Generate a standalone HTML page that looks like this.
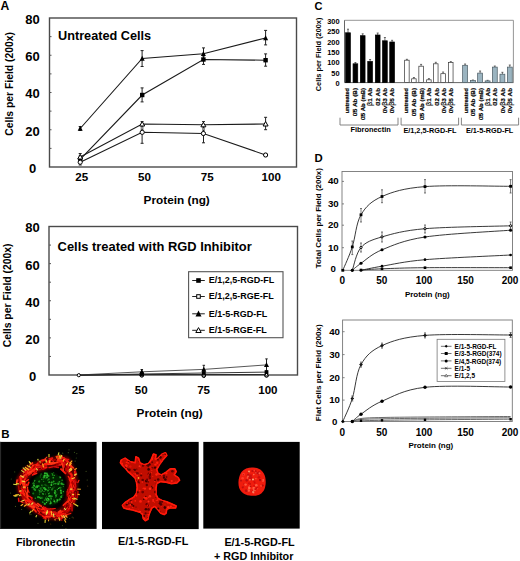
<!DOCTYPE html>
<html><head><meta charset="utf-8"><style>
html,body{margin:0;padding:0;background:#fff;overflow:hidden;}
svg{display:block;font-family:"Liberation Sans", sans-serif;}
</style></head><body>
<svg width="520" height="561" viewBox="0 0 520 561">
<rect width="520" height="561" fill="#fff"/>
<text x="0.6" y="9.8" font-size="12.2" font-weight="bold" text-anchor="start" fill="#000" >A</text>
<rect x="49.5" y="18" width="247" height="149" fill="none" stroke="#4a4a4a" stroke-width="1.4"/>
<line x1="49.5" y1="148.375" x2="51.5" y2="148.375" stroke="#555" stroke-width="1"/>
<line x1="49.5" y1="129.75" x2="51.5" y2="129.75" stroke="#555" stroke-width="1"/>
<line x1="49.5" y1="111.125" x2="51.5" y2="111.125" stroke="#555" stroke-width="1"/>
<line x1="49.5" y1="92.5" x2="51.5" y2="92.5" stroke="#555" stroke-width="1"/>
<line x1="49.5" y1="73.875" x2="51.5" y2="73.875" stroke="#555" stroke-width="1"/>
<line x1="49.5" y1="55.25" x2="51.5" y2="55.25" stroke="#555" stroke-width="1"/>
<line x1="49.5" y1="36.625" x2="51.5" y2="36.625" stroke="#555" stroke-width="1"/>
<text x="32.5" y="23.7" font-size="13" font-weight="bold" text-anchor="middle" fill="#000" >80</text>
<text x="32.5" y="61.0" font-size="13" font-weight="bold" text-anchor="middle" fill="#000" >60</text>
<text x="32.5" y="98.3" font-size="13" font-weight="bold" text-anchor="middle" fill="#000" >40</text>
<text x="32.5" y="135.6" font-size="13" font-weight="bold" text-anchor="middle" fill="#000" >20</text>
<text x="32.5" y="172.89999999999998" font-size="13" font-weight="bold" text-anchor="middle" fill="#000" >0</text>
<text x="81.7" y="181.4" font-size="11.6" font-weight="bold" text-anchor="middle" fill="#000" >25</text>
<text x="144.4" y="181.4" font-size="11.6" font-weight="bold" text-anchor="middle" fill="#000" >50</text>
<text x="207.2" y="181.4" font-size="11.6" font-weight="bold" text-anchor="middle" fill="#000" >75</text>
<text x="271.2" y="181.4" font-size="11.6" font-weight="bold" text-anchor="middle" fill="#000" >100</text>
<text x="143.6" y="204.3" font-size="11.8" font-weight="bold" text-anchor="start" fill="#000" >Protein (ng)</text>
<text x="0" y="0" font-size="10.3" font-weight="bold" text-anchor="middle" fill="#000" transform="translate(12.9,83.85) rotate(-90)" textLength="103.6" lengthAdjust="spacingAndGlyphs">Cells per Field (200x)</text>
<text x="58.0" y="39.6" font-size="12.7" font-weight="bold" text-anchor="start" fill="#000" >Untreated Cells</text>
<polyline points="80.2,128.5 142.2,58.5 203.4,53.7 265.6,38.0" fill="none" stroke="#1a1a1a" stroke-width="1.1"/>
<polyline points="80.2,159.3 142.2,95.0 203.4,59.5 265.6,60.2" fill="none" stroke="#1a1a1a" stroke-width="1.1"/>
<polyline points="80.2,157.0 142.2,124.0 203.4,124.8 265.6,124.0" fill="none" stroke="#1a1a1a" stroke-width="1.1"/>
<polyline points="80.2,162.2 142.2,132.3 203.4,133.5 265.6,155.0" fill="none" stroke="#1a1a1a" stroke-width="1.1"/>
<line x1="80.2" y1="126.5" x2="80.2" y2="130.5" stroke="#222" stroke-width="1"/>
<line x1="78.7" y1="126.5" x2="81.7" y2="126.5" stroke="#222" stroke-width="1"/>
<line x1="78.7" y1="130.5" x2="81.7" y2="130.5" stroke="#222" stroke-width="1"/>
<line x1="142.1" y1="50.6" x2="142.1" y2="66.5" stroke="#222" stroke-width="1"/>
<line x1="140.6" y1="50.6" x2="143.6" y2="50.6" stroke="#222" stroke-width="1"/>
<line x1="140.6" y1="66.5" x2="143.6" y2="66.5" stroke="#222" stroke-width="1"/>
<line x1="203.5" y1="47.9" x2="203.5" y2="58.5" stroke="#222" stroke-width="1"/>
<line x1="202.0" y1="47.9" x2="205.0" y2="47.9" stroke="#222" stroke-width="1"/>
<line x1="202.0" y1="58.5" x2="205.0" y2="58.5" stroke="#222" stroke-width="1"/>
<line x1="265.6" y1="30.4" x2="265.6" y2="44.9" stroke="#222" stroke-width="1"/>
<line x1="264.1" y1="30.4" x2="267.1" y2="30.4" stroke="#222" stroke-width="1"/>
<line x1="264.1" y1="44.9" x2="267.1" y2="44.9" stroke="#222" stroke-width="1"/>
<line x1="80.2" y1="156" x2="80.2" y2="162" stroke="#222" stroke-width="1"/>
<line x1="78.7" y1="156" x2="81.7" y2="156" stroke="#222" stroke-width="1"/>
<line x1="78.7" y1="162" x2="81.7" y2="162" stroke="#222" stroke-width="1"/>
<line x1="142.1" y1="87.9" x2="142.1" y2="101.9" stroke="#222" stroke-width="1"/>
<line x1="140.6" y1="87.9" x2="143.6" y2="87.9" stroke="#222" stroke-width="1"/>
<line x1="140.6" y1="101.9" x2="143.6" y2="101.9" stroke="#222" stroke-width="1"/>
<line x1="203.5" y1="56" x2="203.5" y2="64.4" stroke="#222" stroke-width="1"/>
<line x1="202.0" y1="56" x2="205.0" y2="56" stroke="#222" stroke-width="1"/>
<line x1="202.0" y1="64.4" x2="205.0" y2="64.4" stroke="#222" stroke-width="1"/>
<line x1="265.6" y1="53.9" x2="265.6" y2="66.2" stroke="#222" stroke-width="1"/>
<line x1="264.1" y1="53.9" x2="267.1" y2="53.9" stroke="#222" stroke-width="1"/>
<line x1="264.1" y1="66.2" x2="267.1" y2="66.2" stroke="#222" stroke-width="1"/>
<line x1="80.2" y1="153.5" x2="80.2" y2="160" stroke="#222" stroke-width="1"/>
<line x1="78.7" y1="153.5" x2="81.7" y2="153.5" stroke="#222" stroke-width="1"/>
<line x1="78.7" y1="160" x2="81.7" y2="160" stroke="#222" stroke-width="1"/>
<line x1="142.1" y1="121.6" x2="142.1" y2="127" stroke="#222" stroke-width="1"/>
<line x1="140.6" y1="121.6" x2="143.6" y2="121.6" stroke="#222" stroke-width="1"/>
<line x1="140.6" y1="127" x2="143.6" y2="127" stroke="#222" stroke-width="1"/>
<line x1="203.5" y1="121.6" x2="203.5" y2="128" stroke="#222" stroke-width="1"/>
<line x1="202.0" y1="121.6" x2="205.0" y2="121.6" stroke="#222" stroke-width="1"/>
<line x1="202.0" y1="128" x2="205.0" y2="128" stroke="#222" stroke-width="1"/>
<line x1="265.6" y1="117.3" x2="265.6" y2="129.7" stroke="#222" stroke-width="1"/>
<line x1="264.1" y1="117.3" x2="267.1" y2="117.3" stroke="#222" stroke-width="1"/>
<line x1="264.1" y1="129.7" x2="267.1" y2="129.7" stroke="#222" stroke-width="1"/>
<line x1="80.2" y1="160" x2="80.2" y2="165" stroke="#222" stroke-width="1"/>
<line x1="78.7" y1="160" x2="81.7" y2="160" stroke="#222" stroke-width="1"/>
<line x1="78.7" y1="165" x2="81.7" y2="165" stroke="#222" stroke-width="1"/>
<line x1="142.1" y1="129" x2="142.1" y2="143.3" stroke="#222" stroke-width="1"/>
<line x1="140.6" y1="129" x2="143.6" y2="129" stroke="#222" stroke-width="1"/>
<line x1="140.6" y1="143.3" x2="143.6" y2="143.3" stroke="#222" stroke-width="1"/>
<line x1="203.5" y1="130" x2="203.5" y2="142.8" stroke="#222" stroke-width="1"/>
<line x1="202.0" y1="130" x2="205.0" y2="130" stroke="#222" stroke-width="1"/>
<line x1="202.0" y1="142.8" x2="205.0" y2="142.8" stroke="#222" stroke-width="1"/>
<line x1="265.6" y1="153.5" x2="265.6" y2="156.5" stroke="#222" stroke-width="1"/>
<line x1="264.1" y1="153.5" x2="267.1" y2="153.5" stroke="#222" stroke-width="1"/>
<line x1="264.1" y1="156.5" x2="267.1" y2="156.5" stroke="#222" stroke-width="1"/>
<polygon points="80.2,125.8 82.7,130.7 77.7,130.7" fill="#000"/>
<rect x="78.0" y="157.10000000000002" width="4.4" height="4.4" fill="#000"/>
<polygon points="80.2,154.5 82.7,159.0 77.7,159.0" fill="#fff" stroke="#000" stroke-width="1"/>
<circle cx="80.2" cy="162.2" r="2.1" fill="#fff" stroke="#000" stroke-width="1"/>
<polygon points="142.2,55.8 144.7,60.7 139.7,60.7" fill="#000"/>
<rect x="140.0" y="92.8" width="4.4" height="4.4" fill="#000"/>
<polygon points="142.2,121.5 144.7,126.0 139.7,126.0" fill="#fff" stroke="#000" stroke-width="1"/>
<circle cx="142.2" cy="132.3" r="2.1" fill="#fff" stroke="#000" stroke-width="1"/>
<polygon points="203.4,51.0 205.9,55.900000000000006 200.9,55.900000000000006" fill="#000"/>
<rect x="201.20000000000002" y="57.3" width="4.4" height="4.4" fill="#000"/>
<polygon points="203.4,122.3 205.9,126.8 200.9,126.8" fill="#fff" stroke="#000" stroke-width="1"/>
<circle cx="203.4" cy="133.5" r="2.1" fill="#fff" stroke="#000" stroke-width="1"/>
<polygon points="265.6,35.3 268.1,40.2 263.1,40.2" fill="#000"/>
<rect x="263.40000000000003" y="58.0" width="4.4" height="4.4" fill="#000"/>
<polygon points="265.6,121.5 268.1,126.0 263.1,126.0" fill="#fff" stroke="#000" stroke-width="1"/>
<circle cx="265.6" cy="155.0" r="2.1" fill="#fff" stroke="#000" stroke-width="1"/>
<rect x="49" y="226.5" width="248.5" height="148.5" fill="none" stroke="#4a4a4a" stroke-width="1.4"/>
<line x1="49" y1="356.44" x2="51" y2="356.44" stroke="#555" stroke-width="1"/>
<line x1="49" y1="337.88" x2="51" y2="337.88" stroke="#555" stroke-width="1"/>
<line x1="49" y1="319.32" x2="51" y2="319.32" stroke="#555" stroke-width="1"/>
<line x1="49" y1="300.76" x2="51" y2="300.76" stroke="#555" stroke-width="1"/>
<line x1="49" y1="282.2" x2="51" y2="282.2" stroke="#555" stroke-width="1"/>
<line x1="49" y1="263.64" x2="51" y2="263.64" stroke="#555" stroke-width="1"/>
<line x1="49" y1="245.07999999999998" x2="51" y2="245.07999999999998" stroke="#555" stroke-width="1"/>
<text x="32.5" y="232.2" font-size="13" font-weight="bold" text-anchor="middle" fill="#000" >80</text>
<text x="32.5" y="269.5" font-size="13" font-weight="bold" text-anchor="middle" fill="#000" >60</text>
<text x="32.5" y="306.8" font-size="13" font-weight="bold" text-anchor="middle" fill="#000" >40</text>
<text x="32.5" y="344.3" font-size="13" font-weight="bold" text-anchor="middle" fill="#000" >20</text>
<text x="32.5" y="381.3" font-size="13" font-weight="bold" text-anchor="middle" fill="#000" >0</text>
<text x="78.2" y="394.4" font-size="11.6" font-weight="bold" text-anchor="middle" fill="#000" >25</text>
<text x="141.3" y="394.4" font-size="11.6" font-weight="bold" text-anchor="middle" fill="#000" >50</text>
<text x="203.6" y="394.4" font-size="11.6" font-weight="bold" text-anchor="middle" fill="#000" >75</text>
<text x="267.9" y="394.4" font-size="11.6" font-weight="bold" text-anchor="middle" fill="#000" >100</text>
<text x="136.6" y="417.2" font-size="11.8" font-weight="bold" text-anchor="start" fill="#000" >Protein (ng)</text>
<text x="0" y="0" font-size="10.3" font-weight="bold" text-anchor="middle" fill="#000" transform="translate(10.6,295.4) rotate(-90)" textLength="103.9" lengthAdjust="spacingAndGlyphs">Cells per Field (200x)</text>
<text x="57.6" y="250.6" font-size="12.9" font-weight="bold" text-anchor="start" fill="#000" >Cells treated with RGD Inhibitor</text>
<polyline points="78.8,375.0 141.8,371.8 203.8,369.4 266.5,364.9" fill="none" stroke="#444" stroke-width="0.9"/>
<polyline points="78.8,375.2 141.8,374.0 203.8,373.0 266.5,372.1" fill="none" stroke="#222" stroke-width="0.9"/>
<polyline points="78.8,375.3 141.8,374.5 203.8,374.5 266.5,374.5" fill="none" stroke="#222" stroke-width="0.9"/>
<line x1="141.8" y1="369.5" x2="141.8" y2="374.5" stroke="#222" stroke-width="1"/>
<line x1="140.55" y1="369.5" x2="143.05" y2="369.5" stroke="#222" stroke-width="1"/>
<line x1="140.55" y1="374.5" x2="143.05" y2="374.5" stroke="#222" stroke-width="1"/>
<line x1="203.8" y1="365.3" x2="203.8" y2="374" stroke="#222" stroke-width="1"/>
<line x1="202.55" y1="365.3" x2="205.05" y2="365.3" stroke="#222" stroke-width="1"/>
<line x1="202.55" y1="374" x2="205.05" y2="374" stroke="#222" stroke-width="1"/>
<line x1="266.5" y1="358.9" x2="266.5" y2="371" stroke="#222" stroke-width="1"/>
<line x1="265.25" y1="358.9" x2="267.75" y2="358.9" stroke="#222" stroke-width="1"/>
<line x1="265.25" y1="371" x2="267.75" y2="371" stroke="#222" stroke-width="1"/>
<circle cx="141.8" cy="375.6" r="1.6" fill="#fff" stroke="#000" stroke-width="1"/>
<polygon points="141.8,372.5 143.8,376.0 139.8,376.0" fill="#fff" stroke="#000" stroke-width="1"/>
<rect x="139.9" y="372.1" width="3.8" height="3.8" fill="#000"/>
<polygon points="141.8,369.1 144.3,374.0 139.3,374.0" fill="#000"/>
<circle cx="203.8" cy="376.0" r="1.6" fill="#fff" stroke="#000" stroke-width="1"/>
<polygon points="203.8,372.5 205.8,376.0 201.8,376.0" fill="#fff" stroke="#000" stroke-width="1"/>
<rect x="201.9" y="371.1" width="3.8" height="3.8" fill="#000"/>
<polygon points="203.8,366.7 206.3,371.59999999999997 201.3,371.59999999999997" fill="#000"/>
<circle cx="266.5" cy="375.8" r="1.6" fill="#fff" stroke="#000" stroke-width="1"/>
<polygon points="266.5,372.5 268.5,376.0 264.5,376.0" fill="#fff" stroke="#000" stroke-width="1"/>
<rect x="264.6" y="370.20000000000005" width="3.8" height="3.8" fill="#000"/>
<polygon points="266.5,362.2 269.0,367.09999999999997 264.0,367.09999999999997" fill="#000"/>
<circle cx="78.8" cy="375.2" r="1.6" fill="#fff" stroke="#000" stroke-width="1"/>
<rect x="188.6" y="271.7" width="94.4" height="66" fill="#fff" stroke="#555" stroke-width="1.1"/>
<line x1="192.2" y1="280.5" x2="204.8" y2="280.5" stroke="#222" stroke-width="1"/>
<rect x="196.2" y="278.2" width="4.6" height="4.6" fill="#000"/>
<text x="208.8" y="283.4" font-size="9" font-weight="bold" text-anchor="start" fill="#000" >E/1,2,5-RGD-FL</text>
<line x1="192.2" y1="296.5" x2="204.8" y2="296.5" stroke="#222" stroke-width="1"/>
<rect x="196.7" y="294.7" width="3.5999999999999996" height="3.5999999999999996" fill="#fff" stroke="#000" stroke-width="1"/>
<text x="208.8" y="299.4" font-size="9" font-weight="bold" text-anchor="start" fill="#000" >E/1,2,5-RGE-FL</text>
<line x1="192.2" y1="313.8" x2="204.8" y2="313.8" stroke="#222" stroke-width="1"/>
<polygon points="198.5,310.6 201.5,316.5 195.5,316.5" fill="#000"/>
<text x="208.8" y="316.7" font-size="9" font-weight="bold" text-anchor="start" fill="#000" >E/1-5-RGD-FL</text>
<line x1="192.2" y1="330.3" x2="204.8" y2="330.3" stroke="#222" stroke-width="1"/>
<polygon points="198.5,327.6 201.2,332.5 195.8,332.5" fill="#fff" stroke="#000" stroke-width="1"/>
<text x="208.8" y="333.2" font-size="9" font-weight="bold" text-anchor="start" fill="#000" >E/1-5-RGE-FL</text>
<text x="1.2" y="438.4" font-size="11.5" font-weight="bold" text-anchor="start" fill="#000" >B</text>
<rect x="0" y="441.9" width="96.6" height="87" fill="#000"/>
<rect x="0" y="441.9" width="1.1" height="87" fill="#2a2a2a"/>
<rect x="102" y="441.9" width="96.7" height="87.2" fill="#000"/>
<rect x="203.3" y="441.9" width="96.4" height="86.7" fill="#000"/>
<defs><filter id="bl" x="-20%" y="-20%" width="140%" height="140%"><feGaussianBlur stdDeviation="0.6"/></filter><filter id="bl2" x="-20%" y="-20%" width="140%" height="140%"><feGaussianBlur stdDeviation="1.2"/></filter><clipPath id="c1"><rect x="0" y="442" width="96.8" height="87"/></clipPath><clipPath id="c2"><rect x="102" y="442" width="96.5" height="87"/></clipPath><clipPath id="c3"><rect x="203.2" y="442" width="96.6" height="86.3"/></clipPath></defs>
<g clip-path="url(#c1)">
<ellipse cx="48.0" cy="489" rx="16.8" ry="16.8" fill="#062206" filter="url(#bl2)"/>
<g filter="url(#bl)"><circle cx="45.4" cy="494.0" r="0.5" fill="#1c9a1c"/><circle cx="38.6" cy="486.1" r="1.0" fill="#1c9a1c"/><circle cx="49.4" cy="493.0" r="0.5" fill="#30c030"/><circle cx="57.4" cy="494.1" r="0.6" fill="#0e500e"/><circle cx="50.5" cy="501.2" r="0.8" fill="#1c9a1c"/><circle cx="35.3" cy="498.2" r="0.8" fill="#1c9a1c"/><circle cx="55.5" cy="496.2" r="0.6" fill="#0e500e"/><circle cx="42.9" cy="502.2" r="0.6" fill="#28b028"/><circle cx="41.9" cy="485.2" r="0.8" fill="#1c9a1c"/><circle cx="52.0" cy="489.8" r="0.8" fill="#28b028"/><circle cx="34.0" cy="485.4" r="0.9" fill="#30c030"/><circle cx="39.7" cy="490.9" r="0.9" fill="#28b028"/><circle cx="48.8" cy="500.8" r="0.8" fill="#0e500e"/><circle cx="42.2" cy="497.5" r="1.1" fill="#0e500e"/><circle cx="56.2" cy="495.5" r="0.6" fill="#137013"/><circle cx="45.0" cy="488.5" r="1.0" fill="#1c9a1c"/><circle cx="34.5" cy="481.5" r="0.7" fill="#137013"/><circle cx="41.5" cy="497.7" r="0.5" fill="#30c030"/><circle cx="55.4" cy="493.1" r="0.5" fill="#1c9a1c"/><circle cx="44.3" cy="475.6" r="0.7" fill="#30c030"/><circle cx="38.1" cy="497.2" r="1.1" fill="#1c9a1c"/><circle cx="40.4" cy="498.5" r="0.5" fill="#30c030"/><circle cx="49.0" cy="482.4" r="0.7" fill="#28b028"/><circle cx="58.4" cy="482.5" r="0.8" fill="#28b028"/><circle cx="33.5" cy="483.6" r="1.0" fill="#30c030"/><circle cx="46.4" cy="498.8" r="0.9" fill="#137013"/><circle cx="42.5" cy="493.7" r="0.6" fill="#1c9a1c"/><circle cx="49.2" cy="496.2" r="1.0" fill="#30c030"/><circle cx="51.9" cy="496.3" r="0.8" fill="#28b028"/><circle cx="39.8" cy="497.4" r="0.9" fill="#28b028"/><circle cx="35.4" cy="487.0" r="0.8" fill="#1c9a1c"/><circle cx="59.4" cy="476.6" r="0.7" fill="#0e500e"/><circle cx="44.0" cy="491.4" r="0.5" fill="#30c030"/><circle cx="55.2" cy="491.4" r="0.6" fill="#28b028"/><circle cx="44.0" cy="485.2" r="0.6" fill="#0e500e"/><circle cx="56.3" cy="494.2" r="0.5" fill="#1c9a1c"/><circle cx="50.9" cy="498.1" r="1.1" fill="#137013"/><circle cx="39.2" cy="481.5" r="1.0" fill="#1c9a1c"/><circle cx="59.6" cy="487.8" r="0.7" fill="#30c030"/><circle cx="57.1" cy="499.5" r="0.8" fill="#137013"/><circle cx="44.1" cy="477.2" r="1.1" fill="#28b028"/><circle cx="42.1" cy="487.2" r="1.0" fill="#0e500e"/><circle cx="48.8" cy="479.3" r="0.9" fill="#1c9a1c"/><circle cx="47.6" cy="498.3" r="0.7" fill="#28b028"/><circle cx="50.4" cy="500.3" r="0.7" fill="#0e500e"/><circle cx="50.8" cy="503.0" r="1.0" fill="#28b028"/><circle cx="54.2" cy="475.4" r="0.6" fill="#28b028"/><circle cx="34.2" cy="488.9" r="1.0" fill="#1c9a1c"/><circle cx="41.1" cy="489.6" r="1.1" fill="#0e500e"/><circle cx="33.2" cy="493.5" r="1.1" fill="#137013"/><circle cx="43.2" cy="494.1" r="0.8" fill="#28b028"/><circle cx="42.3" cy="498.1" r="1.0" fill="#0e500e"/><circle cx="35.1" cy="490.0" r="1.0" fill="#1c9a1c"/><circle cx="55.8" cy="495.3" r="0.8" fill="#28b028"/><circle cx="54.7" cy="501.5" r="0.6" fill="#137013"/><circle cx="61.5" cy="483.6" r="0.7" fill="#30c030"/><circle cx="61.6" cy="483.7" r="1.1" fill="#28b028"/><circle cx="60.8" cy="490.5" r="1.0" fill="#30c030"/><circle cx="57.4" cy="500.2" r="0.9" fill="#30c030"/><circle cx="41.1" cy="498.2" r="0.5" fill="#28b028"/><circle cx="52.6" cy="474.9" r="0.8" fill="#1c9a1c"/><circle cx="58.2" cy="483.9" r="1.0" fill="#28b028"/><circle cx="50.3" cy="496.3" r="0.8" fill="#137013"/><circle cx="49.1" cy="478.9" r="0.8" fill="#0e500e"/><circle cx="59.0" cy="499.8" r="1.0" fill="#137013"/><circle cx="40.5" cy="475.6" r="0.8" fill="#0e500e"/><circle cx="58.5" cy="482.5" r="0.6" fill="#0e500e"/><circle cx="32.9" cy="487.3" r="0.9" fill="#28b028"/><circle cx="49.3" cy="482.0" r="0.8" fill="#28b028"/><circle cx="46.4" cy="476.1" r="0.9" fill="#137013"/><circle cx="37.1" cy="486.1" r="1.0" fill="#1c9a1c"/><circle cx="55.1" cy="490.8" r="1.0" fill="#1c9a1c"/><circle cx="35.9" cy="487.7" r="0.8" fill="#1c9a1c"/><circle cx="39.4" cy="480.7" r="0.6" fill="#0e500e"/><circle cx="46.3" cy="499.9" r="0.8" fill="#30c030"/><circle cx="48.5" cy="500.2" r="1.1" fill="#137013"/><circle cx="54.1" cy="483.7" r="0.6" fill="#30c030"/><circle cx="56.2" cy="495.9" r="0.9" fill="#1c9a1c"/><circle cx="41.4" cy="491.6" r="1.0" fill="#137013"/><circle cx="53.5" cy="484.4" r="0.6" fill="#137013"/><circle cx="60.3" cy="477.4" r="0.9" fill="#28b028"/><circle cx="61.2" cy="497.0" r="1.1" fill="#28b028"/><circle cx="51.6" cy="482.5" r="1.1" fill="#30c030"/><circle cx="39.5" cy="494.4" r="0.7" fill="#137013"/><circle cx="47.9" cy="486.0" r="0.8" fill="#0e500e"/><circle cx="45.3" cy="478.5" r="0.9" fill="#0e500e"/><circle cx="44.1" cy="488.0" r="1.1" fill="#28b028"/><circle cx="55.0" cy="493.5" r="1.0" fill="#1c9a1c"/><circle cx="54.3" cy="501.3" r="1.0" fill="#30c030"/><circle cx="41.1" cy="474.0" r="0.6" fill="#30c030"/><circle cx="59.2" cy="482.2" r="0.6" fill="#137013"/><circle cx="61.1" cy="493.1" r="1.0" fill="#30c030"/><circle cx="48.0" cy="490.4" r="1.0" fill="#1c9a1c"/><circle cx="61.5" cy="496.0" r="0.7" fill="#1c9a1c"/><circle cx="49.6" cy="489.5" r="0.8" fill="#0e500e"/><circle cx="59.5" cy="481.7" r="0.8" fill="#1c9a1c"/><circle cx="48.7" cy="493.7" r="0.7" fill="#28b028"/><circle cx="55.0" cy="502.8" r="0.8" fill="#137013"/><circle cx="51.3" cy="498.9" r="0.7" fill="#28b028"/><circle cx="53.7" cy="472.8" r="0.5" fill="#1c9a1c"/><circle cx="47.0" cy="476.1" r="0.8" fill="#28b028"/><circle cx="48.6" cy="499.3" r="0.9" fill="#30c030"/><circle cx="33.4" cy="483.9" r="0.7" fill="#0e500e"/><circle cx="50.0" cy="496.0" r="1.0" fill="#28b028"/><circle cx="44.8" cy="475.6" r="1.1" fill="#30c030"/><circle cx="63.3" cy="486.6" r="0.5" fill="#1c9a1c"/><circle cx="47.8" cy="480.0" r="0.5" fill="#28b028"/><circle cx="43.1" cy="479.5" r="0.9" fill="#0e500e"/><circle cx="46.7" cy="496.3" r="0.5" fill="#137013"/><circle cx="51.7" cy="496.2" r="0.7" fill="#1c9a1c"/><circle cx="64.1" cy="484.4" r="0.7" fill="#0e500e"/><circle cx="63.4" cy="491.6" r="0.7" fill="#28b028"/><circle cx="58.5" cy="488.4" r="0.7" fill="#30c030"/><circle cx="43.7" cy="481.5" r="0.6" fill="#1c9a1c"/><circle cx="50.9" cy="482.6" r="0.5" fill="#0e500e"/><circle cx="57.3" cy="489.6" r="0.6" fill="#28b028"/><circle cx="63.0" cy="484.3" r="0.9" fill="#28b028"/><circle cx="45.0" cy="473.2" r="1.0" fill="#30c030"/><circle cx="46.2" cy="476.9" r="0.9" fill="#137013"/><circle cx="46.2" cy="485.6" r="0.9" fill="#0e500e"/><circle cx="46.8" cy="473.5" r="1.0" fill="#28b028"/><circle cx="48.5" cy="475.9" r="1.0" fill="#1c9a1c"/><circle cx="34.8" cy="480.4" r="0.6" fill="#28b028"/><circle cx="61.0" cy="491.7" r="0.7" fill="#1c9a1c"/><circle cx="44.8" cy="489.4" r="0.9" fill="#1c9a1c"/><circle cx="43.4" cy="477.8" r="0.8" fill="#1c9a1c"/><circle cx="62.7" cy="495.1" r="0.6" fill="#0e500e"/><circle cx="34.2" cy="486.0" r="0.7" fill="#30c030"/><circle cx="55.9" cy="492.1" r="0.6" fill="#28b028"/><circle cx="41.7" cy="479.2" r="0.5" fill="#30c030"/><circle cx="55.8" cy="483.6" r="0.9" fill="#1c9a1c"/><circle cx="45.4" cy="484.7" r="0.7" fill="#28b028"/><circle cx="40.3" cy="477.1" r="0.8" fill="#0e500e"/><circle cx="52.4" cy="488.6" r="1.1" fill="#137013"/><circle cx="54.5" cy="492.8" r="0.7" fill="#30c030"/><circle cx="37.1" cy="487.1" r="1.0" fill="#30c030"/><circle cx="60.5" cy="487.8" r="1.1" fill="#137013"/><circle cx="50.3" cy="487.4" r="0.5" fill="#30c030"/><circle cx="31.9" cy="487.6" r="0.7" fill="#137013"/><circle cx="62.1" cy="480.3" r="0.8" fill="#1c9a1c"/><circle cx="55.8" cy="497.6" r="0.6" fill="#137013"/><circle cx="53.3" cy="477.7" r="0.9" fill="#1c9a1c"/><circle cx="50.1" cy="503.8" r="0.7" fill="#30c030"/><circle cx="57.0" cy="501.8" r="0.7" fill="#30c030"/><circle cx="46.8" cy="477.8" r="0.7" fill="#30c030"/><circle cx="48.7" cy="487.7" r="1.0" fill="#137013"/><circle cx="59.9" cy="499.2" r="1.0" fill="#1c9a1c"/><circle cx="45.8" cy="498.1" r="0.7" fill="#30c030"/><circle cx="51.4" cy="485.0" r="1.0" fill="#30c030"/><circle cx="53.6" cy="481.4" r="1.0" fill="#1c9a1c"/><circle cx="44.8" cy="503.9" r="1.1" fill="#28b028"/><circle cx="39.8" cy="491.9" r="1.0" fill="#137013"/><circle cx="45.8" cy="489.5" r="1.0" fill="#30c030"/><circle cx="59.7" cy="483.8" r="0.5" fill="#1c9a1c"/><circle cx="47.1" cy="477.3" r="0.9" fill="#28b028"/><circle cx="47.5" cy="491.9" r="0.6" fill="#0e500e"/><circle cx="38.8" cy="490.0" r="0.7" fill="#137013"/><circle cx="47.4" cy="475.0" r="0.9" fill="#30c030"/><circle cx="44.4" cy="500.0" r="0.6" fill="#30c030"/><circle cx="45.5" cy="484.8" r="1.0" fill="#0e500e"/><circle cx="40.6" cy="488.4" r="1.1" fill="#137013"/><circle cx="42.4" cy="490.2" r="0.6" fill="#28b028"/><circle cx="53.9" cy="499.3" r="0.6" fill="#137013"/><circle cx="47.6" cy="500.7" r="0.9" fill="#1c9a1c"/><circle cx="39.2" cy="493.8" r="0.6" fill="#0e500e"/><circle cx="46.5" cy="502.5" r="0.7" fill="#30c030"/><circle cx="54.0" cy="487.1" r="0.8" fill="#0e500e"/><circle cx="52.1" cy="473.6" r="0.7" fill="#1c9a1c"/><circle cx="48.4" cy="498.7" r="0.8" fill="#30c030"/><circle cx="42.6" cy="502.1" r="0.6" fill="#1c9a1c"/></g>
<path d="M21.8,479.9 L27.2,472.1 L36.5,467.1 L48.1,463.8 L58.8,460.9 L65.4,461.7 L69.5,469.1 L72.6,479.9 L72.6,491.4 L70.4,501.4 L66.3,510.4 L58.8,515.1 L49.8,514.3 L40.7,510.4 L31.6,504.6 L25.0,498.0 L22.1,488.1 Z" fill="none" stroke="#5a0000" stroke-width="11" stroke-linejoin="round" filter="url(#bl2)"/>
<g filter="url(#bl)"><line x1="74.0" y1="480.4" x2="72.0" y2="484.4" stroke="#ff2010" stroke-width="1.3" stroke-linecap="round"/><line x1="27.3" y1="493.1" x2="27.6" y2="487.2" stroke="#ff3818" stroke-width="1.2" stroke-linecap="round"/><line x1="31.2" y1="467.3" x2="37.2" y2="465.4" stroke="#ff1a0a" stroke-width="1.6" stroke-linecap="round"/><line x1="27.4" y1="504.8" x2="26.4" y2="502.2" stroke="#ff2010" stroke-width="1.0" stroke-linecap="round"/><line x1="35.2" y1="467.4" x2="41.5" y2="467.0" stroke="#ff1a0a" stroke-width="1.2" stroke-linecap="round"/><line x1="61.4" y1="513.4" x2="58.7" y2="514.5" stroke="#ff2010" stroke-width="1.2" stroke-linecap="round"/><line x1="21.0" y1="489.0" x2="21.7" y2="486.5" stroke="#b00000" stroke-width="1.2" stroke-linecap="round"/><line x1="75.6" y1="487.3" x2="73.4" y2="491.8" stroke="#e81010" stroke-width="1.4" stroke-linecap="round"/><line x1="56.9" y1="460.9" x2="60.6" y2="460.7" stroke="#ff2010" stroke-width="1.2" stroke-linecap="round"/><line x1="18.9" y1="501.4" x2="18.5" y2="498.6" stroke="#e81010" stroke-width="1.5" stroke-linecap="round"/><line x1="23.7" y1="492.7" x2="21.9" y2="488.9" stroke="#ff1a0a" stroke-width="1.3" stroke-linecap="round"/><line x1="20.6" y1="481.5" x2="22.9" y2="476.1" stroke="#ff2010" stroke-width="1.2" stroke-linecap="round"/><line x1="24.3" y1="486.0" x2="23.2" y2="482.8" stroke="#c80808" stroke-width="1.1" stroke-linecap="round"/><line x1="66.7" y1="515.8" x2="61.2" y2="518.5" stroke="#ff3818" stroke-width="1.3" stroke-linecap="round"/><line x1="58.1" y1="516.2" x2="54.7" y2="516.2" stroke="#b00000" stroke-width="1.1" stroke-linecap="round"/><line x1="26.6" y1="475.3" x2="27.3" y2="471.3" stroke="#ff1a0a" stroke-width="1.7" stroke-linecap="round"/><line x1="46.6" y1="518.9" x2="43.4" y2="518.1" stroke="#b00000" stroke-width="1.6" stroke-linecap="round"/><line x1="23.4" y1="477.2" x2="26.2" y2="474.3" stroke="#c80808" stroke-width="1.8" stroke-linecap="round"/><line x1="72.6" y1="483.9" x2="74.3" y2="487.7" stroke="#ff2010" stroke-width="1.4" stroke-linecap="round"/><line x1="44.1" y1="512.2" x2="38.7" y2="510.6" stroke="#c80808" stroke-width="1.7" stroke-linecap="round"/><line x1="75.0" y1="480.4" x2="75.8" y2="486.5" stroke="#e81010" stroke-width="1.3" stroke-linecap="round"/><line x1="47.1" y1="514.0" x2="42.5" y2="512.2" stroke="#e81010" stroke-width="1.6" stroke-linecap="round"/><line x1="43.2" y1="511.2" x2="37.1" y2="510.4" stroke="#c80808" stroke-width="1.2" stroke-linecap="round"/><line x1="25.9" y1="472.4" x2="29.5" y2="470.9" stroke="#c80808" stroke-width="1.8" stroke-linecap="round"/><line x1="63.8" y1="511.2" x2="61.1" y2="513.6" stroke="#ff2010" stroke-width="1.6" stroke-linecap="round"/><line x1="70.9" y1="513.5" x2="64.8" y2="515.1" stroke="#ff2010" stroke-width="1.0" stroke-linecap="round"/><line x1="54.3" y1="466.6" x2="58.3" y2="467.4" stroke="#c80808" stroke-width="1.7" stroke-linecap="round"/><line x1="34.5" y1="506.7" x2="30.1" y2="505.8" stroke="#ff2010" stroke-width="1.6" stroke-linecap="round"/><line x1="46.1" y1="515.0" x2="42.8" y2="513.2" stroke="#c80808" stroke-width="1.4" stroke-linecap="round"/><line x1="41.4" y1="506.4" x2="37.8" y2="503.6" stroke="#ff3818" stroke-width="1.6" stroke-linecap="round"/><line x1="58.5" y1="460.2" x2="62.3" y2="460.8" stroke="#ff3818" stroke-width="1.7" stroke-linecap="round"/><line x1="22.0" y1="482.9" x2="21.2" y2="480.2" stroke="#ff2010" stroke-width="1.3" stroke-linecap="round"/><line x1="21.2" y1="483.1" x2="19.5" y2="479.1" stroke="#ff1a0a" stroke-width="1.2" stroke-linecap="round"/><line x1="71.3" y1="500.5" x2="67.7" y2="504.8" stroke="#c80808" stroke-width="1.2" stroke-linecap="round"/><line x1="65.9" y1="503.3" x2="65.4" y2="506.8" stroke="#e81010" stroke-width="1.2" stroke-linecap="round"/><line x1="64.1" y1="458.1" x2="66.9" y2="459.7" stroke="#ff2010" stroke-width="1.3" stroke-linecap="round"/><line x1="23.0" y1="483.9" x2="24.3" y2="479.0" stroke="#ff2010" stroke-width="1.1" stroke-linecap="round"/><line x1="73.9" y1="489.6" x2="70.9" y2="494.6" stroke="#c80808" stroke-width="1.0" stroke-linecap="round"/><line x1="64.0" y1="459.3" x2="68.0" y2="462.0" stroke="#ff2010" stroke-width="1.3" stroke-linecap="round"/><line x1="27.1" y1="501.5" x2="24.5" y2="499.2" stroke="#ff1a0a" stroke-width="1.8" stroke-linecap="round"/><line x1="34.9" y1="472.0" x2="37.7" y2="469.2" stroke="#e81010" stroke-width="1.0" stroke-linecap="round"/><line x1="25.1" y1="482.9" x2="22.5" y2="478.2" stroke="#e81010" stroke-width="1.7" stroke-linecap="round"/><line x1="34.9" y1="504.4" x2="32.7" y2="502.6" stroke="#ff2010" stroke-width="1.6" stroke-linecap="round"/><line x1="70.2" y1="503.6" x2="70.2" y2="506.5" stroke="#ff3818" stroke-width="1.5" stroke-linecap="round"/><line x1="42.8" y1="469.3" x2="46.1" y2="468.0" stroke="#c80808" stroke-width="1.5" stroke-linecap="round"/><line x1="70.6" y1="478.8" x2="73.0" y2="483.8" stroke="#c80808" stroke-width="1.3" stroke-linecap="round"/><line x1="21.6" y1="478.8" x2="24.4" y2="475.8" stroke="#ff3818" stroke-width="1.2" stroke-linecap="round"/><line x1="25.0" y1="481.8" x2="28.5" y2="479.6" stroke="#ff2010" stroke-width="1.3" stroke-linecap="round"/><line x1="28.0" y1="499.0" x2="24.7" y2="495.7" stroke="#ff1a0a" stroke-width="1.6" stroke-linecap="round"/><line x1="71.5" y1="473.9" x2="72.8" y2="480.0" stroke="#ff1a0a" stroke-width="1.4" stroke-linecap="round"/><line x1="40.8" y1="465.9" x2="43.7" y2="466.4" stroke="#ff3818" stroke-width="1.6" stroke-linecap="round"/><line x1="36.0" y1="511.7" x2="33.7" y2="508.9" stroke="#ff2010" stroke-width="1.8" stroke-linecap="round"/><line x1="77.9" y1="491.6" x2="77.3" y2="497.7" stroke="#b00000" stroke-width="1.6" stroke-linecap="round"/><line x1="23.1" y1="500.1" x2="22.3" y2="494.2" stroke="#b00000" stroke-width="1.3" stroke-linecap="round"/><line x1="30.2" y1="503.5" x2="26.6" y2="501.5" stroke="#b00000" stroke-width="1.1" stroke-linecap="round"/><line x1="66.8" y1="468.6" x2="70.6" y2="473.8" stroke="#e81010" stroke-width="1.0" stroke-linecap="round"/><line x1="69.2" y1="505.4" x2="67.1" y2="507.5" stroke="#b00000" stroke-width="1.4" stroke-linecap="round"/><line x1="30.6" y1="503.6" x2="28.1" y2="499.1" stroke="#c80808" stroke-width="1.5" stroke-linecap="round"/><line x1="71.0" y1="481.7" x2="71.2" y2="484.3" stroke="#b00000" stroke-width="1.8" stroke-linecap="round"/><line x1="70.1" y1="487.7" x2="70.4" y2="492.6" stroke="#ff3818" stroke-width="1.7" stroke-linecap="round"/><line x1="35.9" y1="506.1" x2="32.3" y2="504.5" stroke="#ff3818" stroke-width="1.4" stroke-linecap="round"/><line x1="58.9" y1="515.0" x2="56.0" y2="516.0" stroke="#ff1a0a" stroke-width="1.3" stroke-linecap="round"/><line x1="49.2" y1="519.0" x2="45.7" y2="515.3" stroke="#e81010" stroke-width="1.0" stroke-linecap="round"/><line x1="24.4" y1="471.1" x2="29.2" y2="469.1" stroke="#ff2010" stroke-width="1.2" stroke-linecap="round"/><line x1="27.7" y1="485.3" x2="28.8" y2="482.4" stroke="#ff1a0a" stroke-width="1.7" stroke-linecap="round"/><line x1="25.8" y1="473.0" x2="30.2" y2="469.7" stroke="#e81010" stroke-width="1.3" stroke-linecap="round"/><line x1="66.5" y1="512.2" x2="62.1" y2="516.7" stroke="#ff3818" stroke-width="1.2" stroke-linecap="round"/><line x1="59.3" y1="462.5" x2="63.0" y2="463.0" stroke="#ff2010" stroke-width="1.2" stroke-linecap="round"/><line x1="70.0" y1="477.1" x2="71.8" y2="480.7" stroke="#c80808" stroke-width="1.1" stroke-linecap="round"/><line x1="70.0" y1="499.1" x2="67.9" y2="502.4" stroke="#ff3818" stroke-width="1.4" stroke-linecap="round"/><line x1="69.5" y1="508.3" x2="65.5" y2="511.3" stroke="#ff3818" stroke-width="1.6" stroke-linecap="round"/><line x1="69.0" y1="471.2" x2="70.6" y2="474.8" stroke="#e81010" stroke-width="1.3" stroke-linecap="round"/><line x1="42.3" y1="509.8" x2="40.1" y2="508.2" stroke="#b00000" stroke-width="1.2" stroke-linecap="round"/><line x1="62.4" y1="514.8" x2="57.6" y2="515.2" stroke="#ff1a0a" stroke-width="1.7" stroke-linecap="round"/><line x1="48.1" y1="513.0" x2="43.1" y2="512.0" stroke="#ff3818" stroke-width="1.4" stroke-linecap="round"/><line x1="27.1" y1="496.6" x2="25.1" y2="493.9" stroke="#ff1a0a" stroke-width="1.0" stroke-linecap="round"/><line x1="27.1" y1="475.7" x2="29.8" y2="472.0" stroke="#ff3818" stroke-width="1.5" stroke-linecap="round"/><line x1="67.3" y1="507.9" x2="64.0" y2="511.6" stroke="#ff3818" stroke-width="1.1" stroke-linecap="round"/><line x1="21.2" y1="478.7" x2="22.6" y2="476.4" stroke="#e81010" stroke-width="1.7" stroke-linecap="round"/><line x1="41.3" y1="506.0" x2="38.2" y2="504.4" stroke="#ff2010" stroke-width="1.0" stroke-linecap="round"/><line x1="32.1" y1="508.3" x2="28.1" y2="505.3" stroke="#b00000" stroke-width="1.6" stroke-linecap="round"/><line x1="58.2" y1="462.4" x2="60.6" y2="463.7" stroke="#b00000" stroke-width="1.0" stroke-linecap="round"/><line x1="48.0" y1="461.8" x2="51.9" y2="458.7" stroke="#ff1a0a" stroke-width="1.8" stroke-linecap="round"/><line x1="37.9" y1="462.5" x2="42.0" y2="459.8" stroke="#b00000" stroke-width="1.5" stroke-linecap="round"/><line x1="69.3" y1="479.0" x2="71.4" y2="483.6" stroke="#ff1a0a" stroke-width="1.6" stroke-linecap="round"/><line x1="51.3" y1="511.4" x2="45.4" y2="511.9" stroke="#ff1a0a" stroke-width="1.7" stroke-linecap="round"/><line x1="29.5" y1="470.9" x2="33.0" y2="470.9" stroke="#ff1a0a" stroke-width="1.0" stroke-linecap="round"/><line x1="66.7" y1="465.3" x2="68.0" y2="470.4" stroke="#c80808" stroke-width="1.6" stroke-linecap="round"/><line x1="58.9" y1="462.7" x2="63.1" y2="464.6" stroke="#c80808" stroke-width="1.2" stroke-linecap="round"/><line x1="23.5" y1="491.6" x2="23.8" y2="488.7" stroke="#b00000" stroke-width="1.0" stroke-linecap="round"/><line x1="59.5" y1="459.4" x2="64.1" y2="462.4" stroke="#c80808" stroke-width="1.2" stroke-linecap="round"/><line x1="74.8" y1="471.6" x2="75.5" y2="475.6" stroke="#ff1a0a" stroke-width="1.7" stroke-linecap="round"/><line x1="20.3" y1="484.4" x2="20.0" y2="479.8" stroke="#ff2010" stroke-width="1.7" stroke-linecap="round"/><line x1="70.5" y1="482.9" x2="69.4" y2="487.6" stroke="#c80808" stroke-width="1.6" stroke-linecap="round"/><line x1="68.2" y1="476.4" x2="69.7" y2="478.6" stroke="#ff2010" stroke-width="1.1" stroke-linecap="round"/><line x1="25.1" y1="491.4" x2="23.8" y2="488.6" stroke="#ff2010" stroke-width="1.0" stroke-linecap="round"/><line x1="39.7" y1="467.3" x2="41.8" y2="465.5" stroke="#b00000" stroke-width="1.6" stroke-linecap="round"/><line x1="49.9" y1="462.8" x2="54.4" y2="463.7" stroke="#ff1a0a" stroke-width="1.1" stroke-linecap="round"/><line x1="23.4" y1="502.8" x2="20.3" y2="501.5" stroke="#ff2010" stroke-width="1.0" stroke-linecap="round"/><line x1="24.2" y1="489.7" x2="26.3" y2="484.6" stroke="#ff2010" stroke-width="1.7" stroke-linecap="round"/><line x1="62.2" y1="511.3" x2="59.1" y2="515.9" stroke="#e81010" stroke-width="1.2" stroke-linecap="round"/><line x1="67.8" y1="464.8" x2="70.5" y2="467.6" stroke="#c80808" stroke-width="1.0" stroke-linecap="round"/><line x1="42.3" y1="515.4" x2="38.4" y2="513.3" stroke="#c80808" stroke-width="1.5" stroke-linecap="round"/><line x1="25.7" y1="478.7" x2="27.8" y2="475.1" stroke="#ff2010" stroke-width="1.3" stroke-linecap="round"/><line x1="51.2" y1="513.2" x2="48.6" y2="511.9" stroke="#c80808" stroke-width="1.1" stroke-linecap="round"/><line x1="21.5" y1="482.5" x2="23.2" y2="477.2" stroke="#ff2010" stroke-width="1.0" stroke-linecap="round"/><line x1="67.2" y1="491.4" x2="67.6" y2="495.8" stroke="#c80808" stroke-width="1.8" stroke-linecap="round"/><line x1="71.6" y1="497.6" x2="70.7" y2="500.6" stroke="#e81010" stroke-width="1.8" stroke-linecap="round"/><line x1="56.9" y1="458.2" x2="61.4" y2="458.2" stroke="#ff1a0a" stroke-width="1.4" stroke-linecap="round"/><line x1="30.3" y1="464.7" x2="32.5" y2="463.0" stroke="#ff3818" stroke-width="1.7" stroke-linecap="round"/><line x1="46.1" y1="509.0" x2="42.6" y2="507.9" stroke="#ff3818" stroke-width="1.7" stroke-linecap="round"/><line x1="73.4" y1="494.2" x2="72.8" y2="500.2" stroke="#e81010" stroke-width="1.8" stroke-linecap="round"/><line x1="38.4" y1="469.8" x2="41.0" y2="469.4" stroke="#b00000" stroke-width="1.3" stroke-linecap="round"/><line x1="41.8" y1="467.0" x2="46.9" y2="467.3" stroke="#ff1a0a" stroke-width="1.3" stroke-linecap="round"/><line x1="71.3" y1="488.0" x2="72.4" y2="491.7" stroke="#ff1a0a" stroke-width="1.7" stroke-linecap="round"/><line x1="56.6" y1="463.0" x2="60.2" y2="462.3" stroke="#ff1a0a" stroke-width="1.7" stroke-linecap="round"/><line x1="64.3" y1="510.9" x2="59.7" y2="512.5" stroke="#c80808" stroke-width="1.1" stroke-linecap="round"/><line x1="60.9" y1="469.0" x2="65.5" y2="473.4" stroke="#ff1a0a" stroke-width="1.8" stroke-linecap="round"/><line x1="44.6" y1="466.3" x2="47.1" y2="464.5" stroke="#c80808" stroke-width="1.6" stroke-linecap="round"/><line x1="70.4" y1="482.2" x2="71.9" y2="487.1" stroke="#ff2010" stroke-width="1.2" stroke-linecap="round"/><line x1="25.1" y1="499.5" x2="25.4" y2="495.2" stroke="#e81010" stroke-width="1.4" stroke-linecap="round"/><line x1="62.0" y1="513.1" x2="59.4" y2="514.9" stroke="#b00000" stroke-width="1.6" stroke-linecap="round"/><line x1="20.3" y1="480.8" x2="23.8" y2="477.4" stroke="#ff1a0a" stroke-width="1.3" stroke-linecap="round"/><line x1="56.2" y1="456.5" x2="62.2" y2="456.3" stroke="#ff1a0a" stroke-width="1.6" stroke-linecap="round"/><line x1="31.1" y1="501.7" x2="28.3" y2="499.2" stroke="#ff1a0a" stroke-width="1.6" stroke-linecap="round"/><line x1="28.7" y1="496.6" x2="26.5" y2="493.1" stroke="#ff1a0a" stroke-width="1.5" stroke-linecap="round"/><line x1="57.4" y1="462.9" x2="61.4" y2="463.9" stroke="#ff1a0a" stroke-width="1.5" stroke-linecap="round"/><line x1="25.6" y1="501.4" x2="24.1" y2="497.9" stroke="#ff2010" stroke-width="1.3" stroke-linecap="round"/><line x1="73.0" y1="493.3" x2="72.2" y2="496.4" stroke="#e81010" stroke-width="1.4" stroke-linecap="round"/><line x1="31.8" y1="469.5" x2="36.1" y2="467.7" stroke="#ff1a0a" stroke-width="1.4" stroke-linecap="round"/><line x1="21.5" y1="480.0" x2="23.9" y2="475.0" stroke="#ff3818" stroke-width="1.2" stroke-linecap="round"/><line x1="55.4" y1="512.2" x2="49.9" y2="512.3" stroke="#ff2010" stroke-width="1.6" stroke-linecap="round"/><line x1="63.4" y1="510.5" x2="61.3" y2="512.2" stroke="#ff2010" stroke-width="1.3" stroke-linecap="round"/><line x1="71.5" y1="480.1" x2="70.8" y2="483.9" stroke="#c80808" stroke-width="1.1" stroke-linecap="round"/><line x1="63.0" y1="463.9" x2="63.2" y2="470.4" stroke="#ff3818" stroke-width="1.4" stroke-linecap="round"/><line x1="44.0" y1="460.5" x2="46.7" y2="460.9" stroke="#ff1a0a" stroke-width="1.2" stroke-linecap="round"/><line x1="60.7" y1="511.9" x2="57.5" y2="516.0" stroke="#ff3818" stroke-width="1.4" stroke-linecap="round"/><line x1="62.2" y1="464.3" x2="63.5" y2="467.0" stroke="#ff3818" stroke-width="1.3" stroke-linecap="round"/><line x1="30.6" y1="502.5" x2="27.0" y2="500.3" stroke="#e81010" stroke-width="1.4" stroke-linecap="round"/><line x1="34.1" y1="509.9" x2="31.6" y2="506.9" stroke="#ff1a0a" stroke-width="1.2" stroke-linecap="round"/><line x1="69.7" y1="490.5" x2="68.3" y2="494.1" stroke="#c80808" stroke-width="1.7" stroke-linecap="round"/><line x1="23.3" y1="473.2" x2="28.2" y2="469.5" stroke="#e81010" stroke-width="1.4" stroke-linecap="round"/><line x1="65.6" y1="469.5" x2="67.6" y2="471.4" stroke="#c80808" stroke-width="1.2" stroke-linecap="round"/><line x1="33.9" y1="471.3" x2="36.2" y2="468.7" stroke="#ff3818" stroke-width="1.3" stroke-linecap="round"/><line x1="40.1" y1="463.2" x2="45.1" y2="459.7" stroke="#b00000" stroke-width="1.8" stroke-linecap="round"/><line x1="31.5" y1="471.6" x2="36.2" y2="471.2" stroke="#ff1a0a" stroke-width="1.7" stroke-linecap="round"/><line x1="49.6" y1="463.9" x2="53.9" y2="463.8" stroke="#ff2010" stroke-width="1.4" stroke-linecap="round"/><line x1="59.2" y1="464.2" x2="62.2" y2="463.7" stroke="#ff3818" stroke-width="1.4" stroke-linecap="round"/><line x1="75.3" y1="492.9" x2="75.4" y2="496.1" stroke="#b00000" stroke-width="1.7" stroke-linecap="round"/><line x1="22.8" y1="481.1" x2="26.3" y2="478.5" stroke="#b00000" stroke-width="1.4" stroke-linecap="round"/><line x1="64.1" y1="461.7" x2="64.1" y2="466.9" stroke="#e81010" stroke-width="1.5" stroke-linecap="round"/><line x1="61.7" y1="512.6" x2="59.2" y2="516.9" stroke="#ff1a0a" stroke-width="1.6" stroke-linecap="round"/><line x1="21.6" y1="482.7" x2="21.3" y2="477.2" stroke="#e81010" stroke-width="1.0" stroke-linecap="round"/><line x1="49.6" y1="513.4" x2="46.3" y2="511.4" stroke="#ff1a0a" stroke-width="1.3" stroke-linecap="round"/><line x1="67.9" y1="489.3" x2="68.3" y2="493.5" stroke="#ff3818" stroke-width="1.2" stroke-linecap="round"/><line x1="26.5" y1="475.1" x2="28.0" y2="471.5" stroke="#ff3818" stroke-width="1.3" stroke-linecap="round"/><line x1="72.6" y1="494.9" x2="69.3" y2="498.9" stroke="#ff2010" stroke-width="1.3" stroke-linecap="round"/><line x1="67.3" y1="460.3" x2="70.5" y2="464.0" stroke="#ff1a0a" stroke-width="1.1" stroke-linecap="round"/><line x1="24.7" y1="483.5" x2="24.1" y2="478.8" stroke="#ff3818" stroke-width="1.2" stroke-linecap="round"/><line x1="19.6" y1="481.4" x2="21.4" y2="475.5" stroke="#b00000" stroke-width="1.6" stroke-linecap="round"/><line x1="28.7" y1="474.9" x2="31.2" y2="473.1" stroke="#ff1a0a" stroke-width="1.6" stroke-linecap="round"/><line x1="66.8" y1="510.4" x2="63.7" y2="511.7" stroke="#ff1a0a" stroke-width="1.5" stroke-linecap="round"/><line x1="64.5" y1="514.5" x2="60.3" y2="515.3" stroke="#ff2010" stroke-width="1.7" stroke-linecap="round"/><line x1="61.5" y1="518.1" x2="55.7" y2="518.3" stroke="#c80808" stroke-width="1.4" stroke-linecap="round"/><line x1="58.9" y1="462.1" x2="63.1" y2="461.9" stroke="#ff1a0a" stroke-width="1.5" stroke-linecap="round"/><line x1="21.6" y1="495.4" x2="20.3" y2="491.0" stroke="#ff2010" stroke-width="1.6" stroke-linecap="round"/><line x1="70.7" y1="479.6" x2="72.8" y2="484.3" stroke="#b00000" stroke-width="1.5" stroke-linecap="round"/><line x1="24.3" y1="490.8" x2="25.2" y2="486.5" stroke="#ff3818" stroke-width="1.4" stroke-linecap="round"/><line x1="32.8" y1="474.8" x2="36.7" y2="473.3" stroke="#ff2010" stroke-width="1.5" stroke-linecap="round"/><line x1="35.5" y1="465.8" x2="38.3" y2="466.3" stroke="#ff2010" stroke-width="1.1" stroke-linecap="round"/><line x1="22.6" y1="478.8" x2="25.0" y2="476.6" stroke="#ff2010" stroke-width="1.3" stroke-linecap="round"/><line x1="45.1" y1="510.6" x2="42.5" y2="508.8" stroke="#ff2010" stroke-width="1.2" stroke-linecap="round"/><line x1="67.8" y1="501.1" x2="63.3" y2="505.3" stroke="#ff2010" stroke-width="1.6" stroke-linecap="round"/><line x1="22.5" y1="480.9" x2="23.1" y2="475.8" stroke="#b00000" stroke-width="1.1" stroke-linecap="round"/><line x1="66.1" y1="461.8" x2="66.8" y2="466.2" stroke="#ff2010" stroke-width="1.3" stroke-linecap="round"/><line x1="23.2" y1="489.3" x2="24.0" y2="485.0" stroke="#e81010" stroke-width="1.1" stroke-linecap="round"/><line x1="38.6" y1="506.5" x2="35.4" y2="503.8" stroke="#ff3818" stroke-width="1.6" stroke-linecap="round"/><line x1="74.8" y1="485.2" x2="76.1" y2="490.6" stroke="#c80808" stroke-width="1.2" stroke-linecap="round"/><line x1="22.5" y1="469.8" x2="26.2" y2="469.2" stroke="#b00000" stroke-width="1.6" stroke-linecap="round"/><line x1="23.1" y1="480.9" x2="24.6" y2="475.3" stroke="#b00000" stroke-width="1.3" stroke-linecap="round"/><line x1="27.9" y1="499.0" x2="26.8" y2="493.1" stroke="#ff3818" stroke-width="1.2" stroke-linecap="round"/><line x1="18.6" y1="480.8" x2="20.1" y2="476.9" stroke="#b00000" stroke-width="1.7" stroke-linecap="round"/><line x1="43.8" y1="511.0" x2="37.7" y2="510.8" stroke="#b00000" stroke-width="1.1" stroke-linecap="round"/><line x1="23.4" y1="486.0" x2="24.6" y2="481.5" stroke="#ff3818" stroke-width="1.3" stroke-linecap="round"/><line x1="32.4" y1="475.1" x2="36.2" y2="471.1" stroke="#e81010" stroke-width="1.2" stroke-linecap="round"/><line x1="27.0" y1="475.5" x2="29.6" y2="470.9" stroke="#c80808" stroke-width="1.5" stroke-linecap="round"/><line x1="23.8" y1="481.1" x2="26.1" y2="477.9" stroke="#ff2010" stroke-width="1.2" stroke-linecap="round"/><line x1="70.6" y1="508.6" x2="66.1" y2="512.7" stroke="#b00000" stroke-width="1.3" stroke-linecap="round"/><line x1="71.2" y1="494.8" x2="72.3" y2="500.5" stroke="#c80808" stroke-width="1.3" stroke-linecap="round"/><line x1="70.0" y1="505.8" x2="68.5" y2="510.1" stroke="#e81010" stroke-width="1.2" stroke-linecap="round"/><line x1="29.1" y1="492.6" x2="27.3" y2="488.6" stroke="#ff2010" stroke-width="1.1" stroke-linecap="round"/><line x1="67.0" y1="509.8" x2="63.6" y2="512.8" stroke="#ff2010" stroke-width="1.1" stroke-linecap="round"/><line x1="52.0" y1="460.4" x2="55.3" y2="459.8" stroke="#c80808" stroke-width="1.3" stroke-linecap="round"/><line x1="23.8" y1="490.3" x2="25.2" y2="484.6" stroke="#e81010" stroke-width="1.2" stroke-linecap="round"/><line x1="24.6" y1="476.0" x2="25.1" y2="473.3" stroke="#b00000" stroke-width="1.3" stroke-linecap="round"/><line x1="52.9" y1="516.1" x2="47.0" y2="515.6" stroke="#ff2010" stroke-width="1.7" stroke-linecap="round"/><line x1="62.2" y1="516.3" x2="60.1" y2="519.4" stroke="#e81010" stroke-width="1.5" stroke-linecap="round"/><line x1="23.7" y1="488.2" x2="24.2" y2="484.1" stroke="#ff3818" stroke-width="1.7" stroke-linecap="round"/><line x1="69.0" y1="469.6" x2="72.6" y2="474.7" stroke="#c80808" stroke-width="1.0" stroke-linecap="round"/><line x1="71.8" y1="504.5" x2="72.1" y2="510.7" stroke="#c80808" stroke-width="1.6" stroke-linecap="round"/><line x1="50.6" y1="509.4" x2="47.5" y2="509.5" stroke="#ff2010" stroke-width="1.8" stroke-linecap="round"/><line x1="55.3" y1="508.5" x2="50.5" y2="509.1" stroke="#ff1a0a" stroke-width="1.1" stroke-linecap="round"/><line x1="66.6" y1="464.1" x2="68.2" y2="466.9" stroke="#e81010" stroke-width="1.6" stroke-linecap="round"/><line x1="21.9" y1="495.0" x2="22.3" y2="490.7" stroke="#e81010" stroke-width="1.6" stroke-linecap="round"/><line x1="42.2" y1="464.7" x2="46.1" y2="464.1" stroke="#ff1a0a" stroke-width="1.1" stroke-linecap="round"/><line x1="70.5" y1="484.0" x2="72.9" y2="489.7" stroke="#ff2010" stroke-width="1.5" stroke-linecap="round"/><line x1="70.0" y1="485.4" x2="70.1" y2="490.4" stroke="#e81010" stroke-width="1.3" stroke-linecap="round"/><line x1="46.7" y1="516.5" x2="42.5" y2="516.2" stroke="#e81010" stroke-width="1.4" stroke-linecap="round"/><line x1="41.4" y1="468.6" x2="44.9" y2="465.3" stroke="#c80808" stroke-width="1.3" stroke-linecap="round"/><line x1="44.5" y1="463.9" x2="48.1" y2="462.8" stroke="#ff3818" stroke-width="1.1" stroke-linecap="round"/><line x1="16.6" y1="483.5" x2="17.1" y2="480.2" stroke="#ff3818" stroke-width="1.7" stroke-linecap="round"/><line x1="32.7" y1="465.4" x2="39.1" y2="465.2" stroke="#ff3818" stroke-width="1.8" stroke-linecap="round"/><line x1="21.6" y1="482.8" x2="20.1" y2="476.9" stroke="#ff2010" stroke-width="1.7" stroke-linecap="round"/><line x1="23.4" y1="485.3" x2="21.5" y2="480.7" stroke="#ff3818" stroke-width="1.6" stroke-linecap="round"/><line x1="68.3" y1="465.2" x2="69.1" y2="469.8" stroke="#e81010" stroke-width="1.3" stroke-linecap="round"/><line x1="24.5" y1="476.0" x2="26.3" y2="472.9" stroke="#e81010" stroke-width="1.1" stroke-linecap="round"/><line x1="47.6" y1="463.9" x2="50.0" y2="462.3" stroke="#ff2010" stroke-width="1.7" stroke-linecap="round"/><line x1="47.6" y1="509.6" x2="45.1" y2="507.6" stroke="#e81010" stroke-width="1.5" stroke-linecap="round"/><line x1="50.9" y1="515.6" x2="48.2" y2="515.3" stroke="#ff1a0a" stroke-width="1.4" stroke-linecap="round"/><line x1="33.0" y1="502.8" x2="31.3" y2="498.6" stroke="#c80808" stroke-width="1.3" stroke-linecap="round"/><line x1="30.9" y1="504.7" x2="25.0" y2="502.8" stroke="#ff3818" stroke-width="1.1" stroke-linecap="round"/><line x1="57.7" y1="512.3" x2="53.0" y2="513.0" stroke="#c80808" stroke-width="1.0" stroke-linecap="round"/><line x1="53.1" y1="509.6" x2="46.9" y2="510.0" stroke="#b00000" stroke-width="1.1" stroke-linecap="round"/><line x1="66.5" y1="468.8" x2="69.4" y2="473.8" stroke="#c80808" stroke-width="1.6" stroke-linecap="round"/><line x1="32.2" y1="498.1" x2="29.7" y2="496.5" stroke="#ff1a0a" stroke-width="1.4" stroke-linecap="round"/><line x1="69.2" y1="495.3" x2="68.1" y2="499.9" stroke="#ff2010" stroke-width="1.2" stroke-linecap="round"/><line x1="30.8" y1="471.9" x2="34.5" y2="469.0" stroke="#ff2010" stroke-width="1.0" stroke-linecap="round"/><line x1="24.0" y1="492.3" x2="23.8" y2="488.7" stroke="#b00000" stroke-width="1.5" stroke-linecap="round"/><line x1="72.6" y1="488.7" x2="73.0" y2="491.5" stroke="#e81010" stroke-width="1.0" stroke-linecap="round"/><line x1="34.1" y1="464.9" x2="38.5" y2="463.7" stroke="#c80808" stroke-width="1.1" stroke-linecap="round"/><line x1="34.7" y1="465.6" x2="37.6" y2="463.8" stroke="#ff1a0a" stroke-width="1.5" stroke-linecap="round"/><line x1="46.8" y1="509.7" x2="41.0" y2="509.3" stroke="#ff1a0a" stroke-width="1.3" stroke-linecap="round"/><line x1="73.9" y1="478.0" x2="74.6" y2="484.3" stroke="#c80808" stroke-width="1.3" stroke-linecap="round"/><line x1="56.2" y1="463.6" x2="60.5" y2="463.4" stroke="#b00000" stroke-width="1.6" stroke-linecap="round"/><line x1="23.1" y1="494.9" x2="20.0" y2="491.5" stroke="#ff1a0a" stroke-width="1.7" stroke-linecap="round"/><line x1="56.0" y1="465.2" x2="61.0" y2="465.4" stroke="#c80808" stroke-width="1.1" stroke-linecap="round"/><line x1="48.4" y1="464.2" x2="51.7" y2="463.9" stroke="#ff3818" stroke-width="1.8" stroke-linecap="round"/><line x1="39.6" y1="512.8" x2="36.9" y2="508.5" stroke="#ff2010" stroke-width="1.0" stroke-linecap="round"/><line x1="61.0" y1="512.7" x2="57.7" y2="516.0" stroke="#ff2010" stroke-width="1.5" stroke-linecap="round"/><line x1="60.0" y1="457.3" x2="64.2" y2="457.9" stroke="#ff2010" stroke-width="1.2" stroke-linecap="round"/><line x1="64.5" y1="460.9" x2="67.0" y2="466.7" stroke="#b00000" stroke-width="1.7" stroke-linecap="round"/><line x1="29.1" y1="471.9" x2="34.8" y2="469.5" stroke="#ff3818" stroke-width="1.1" stroke-linecap="round"/><line x1="37.9" y1="467.8" x2="41.0" y2="466.2" stroke="#ff2010" stroke-width="1.6" stroke-linecap="round"/><line x1="63.3" y1="459.2" x2="68.6" y2="459.6" stroke="#e81010" stroke-width="1.5" stroke-linecap="round"/><line x1="50.1" y1="463.8" x2="54.9" y2="462.8" stroke="#ff3818" stroke-width="1.7" stroke-linecap="round"/><line x1="26.4" y1="478.6" x2="27.8" y2="475.6" stroke="#b00000" stroke-width="1.3" stroke-linecap="round"/><line x1="69.3" y1="510.6" x2="66.8" y2="513.1" stroke="#b00000" stroke-width="1.3" stroke-linecap="round"/><line x1="61.3" y1="460.4" x2="64.2" y2="462.0" stroke="#ff2010" stroke-width="1.6" stroke-linecap="round"/><line x1="42.5" y1="460.5" x2="45.1" y2="459.6" stroke="#ff3818" stroke-width="1.7" stroke-linecap="round"/><line x1="71.1" y1="465.6" x2="71.2" y2="470.2" stroke="#ff1a0a" stroke-width="1.6" stroke-linecap="round"/><line x1="41.5" y1="466.5" x2="46.5" y2="466.0" stroke="#c80808" stroke-width="1.7" stroke-linecap="round"/><line x1="73.9" y1="497.9" x2="71.5" y2="502.8" stroke="#ff3818" stroke-width="1.2" stroke-linecap="round"/><line x1="60.8" y1="510.5" x2="58.5" y2="512.2" stroke="#ff3818" stroke-width="1.6" stroke-linecap="round"/><line x1="65.9" y1="504.8" x2="63.2" y2="510.6" stroke="#b00000" stroke-width="1.1" stroke-linecap="round"/><line x1="31.9" y1="502.4" x2="26.5" y2="500.1" stroke="#ff1a0a" stroke-width="1.4" stroke-linecap="round"/><line x1="49.0" y1="517.1" x2="45.0" y2="516.3" stroke="#b00000" stroke-width="1.5" stroke-linecap="round"/><line x1="61.9" y1="520.2" x2="58.5" y2="518.0" stroke="#c80808" stroke-width="1.1" stroke-linecap="round"/><line x1="64.4" y1="461.2" x2="68.0" y2="464.4" stroke="#b00000" stroke-width="1.2" stroke-linecap="round"/><line x1="35.6" y1="503.5" x2="32.9" y2="501.4" stroke="#c80808" stroke-width="1.2" stroke-linecap="round"/><line x1="79.0" y1="480.3" x2="77.9" y2="482.6" stroke="#ff2010" stroke-width="1.2" stroke-linecap="round"/><line x1="26.4" y1="497.6" x2="24.1" y2="493.2" stroke="#ff3818" stroke-width="1.4" stroke-linecap="round"/><line x1="74.4" y1="498.8" x2="72.8" y2="502.6" stroke="#c80808" stroke-width="1.0" stroke-linecap="round"/><line x1="55.9" y1="513.8" x2="52.6" y2="514.9" stroke="#ff3818" stroke-width="1.3" stroke-linecap="round"/><line x1="71.6" y1="475.5" x2="72.6" y2="480.2" stroke="#e81010" stroke-width="1.8" stroke-linecap="round"/><line x1="70.0" y1="491.9" x2="67.4" y2="494.8" stroke="#b00000" stroke-width="1.6" stroke-linecap="round"/><line x1="30.0" y1="469.4" x2="33.2" y2="467.1" stroke="#ff2010" stroke-width="1.7" stroke-linecap="round"/><line x1="76.0" y1="497.6" x2="73.7" y2="502.9" stroke="#b00000" stroke-width="1.7" stroke-linecap="round"/><line x1="75.4" y1="479.0" x2="76.6" y2="482.5" stroke="#b00000" stroke-width="1.2" stroke-linecap="round"/><line x1="25.5" y1="497.4" x2="24.9" y2="494.5" stroke="#b00000" stroke-width="1.8" stroke-linecap="round"/><line x1="61.4" y1="512.9" x2="59.3" y2="516.5" stroke="#ff2010" stroke-width="1.2" stroke-linecap="round"/><line x1="54.6" y1="517.7" x2="50.2" y2="515.7" stroke="#ff1a0a" stroke-width="1.0" stroke-linecap="round"/><line x1="45.5" y1="463.8" x2="50.2" y2="463.8" stroke="#ff1a0a" stroke-width="1.7" stroke-linecap="round"/><line x1="72.4" y1="497.8" x2="71.5" y2="500.8" stroke="#b00000" stroke-width="1.6" stroke-linecap="round"/><line x1="33.0" y1="468.1" x2="35.0" y2="465.7" stroke="#b00000" stroke-width="1.4" stroke-linecap="round"/><line x1="68.8" y1="487.8" x2="68.0" y2="493.0" stroke="#b00000" stroke-width="1.3" stroke-linecap="round"/><line x1="49.9" y1="516.0" x2="46.8" y2="515.2" stroke="#c80808" stroke-width="1.5" stroke-linecap="round"/><line x1="29.0" y1="502.2" x2="24.6" y2="499.9" stroke="#ff2010" stroke-width="1.0" stroke-linecap="round"/><line x1="25.5" y1="499.6" x2="24.2" y2="493.4" stroke="#ff3818" stroke-width="1.0" stroke-linecap="round"/><line x1="57.7" y1="460.4" x2="60.8" y2="461.0" stroke="#ff2010" stroke-width="1.7" stroke-linecap="round"/><line x1="34.1" y1="507.4" x2="29.5" y2="505.6" stroke="#ff3818" stroke-width="1.8" stroke-linecap="round"/><line x1="28.0" y1="473.3" x2="31.8" y2="471.7" stroke="#ff3818" stroke-width="1.7" stroke-linecap="round"/><line x1="69.5" y1="491.4" x2="67.8" y2="494.5" stroke="#e81010" stroke-width="1.1" stroke-linecap="round"/><line x1="74.7" y1="469.2" x2="76.1" y2="472.8" stroke="#c80808" stroke-width="1.4" stroke-linecap="round"/><line x1="70.9" y1="473.7" x2="72.0" y2="476.3" stroke="#ff2010" stroke-width="1.3" stroke-linecap="round"/><line x1="26.5" y1="494.2" x2="25.3" y2="490.6" stroke="#ff3818" stroke-width="1.0" stroke-linecap="round"/><line x1="57.5" y1="513.9" x2="54.4" y2="514.2" stroke="#ff1a0a" stroke-width="1.1" stroke-linecap="round"/><line x1="49.0" y1="467.6" x2="53.3" y2="466.7" stroke="#e81010" stroke-width="1.1" stroke-linecap="round"/><line x1="68.0" y1="468.0" x2="69.1" y2="471.9" stroke="#b00000" stroke-width="1.2" stroke-linecap="round"/><line x1="24.0" y1="488.4" x2="23.8" y2="485.3" stroke="#ff1a0a" stroke-width="1.8" stroke-linecap="round"/><line x1="67.9" y1="509.1" x2="62.7" y2="512.8" stroke="#b00000" stroke-width="1.2" stroke-linecap="round"/><line x1="65.8" y1="511.2" x2="63.1" y2="514.9" stroke="#b00000" stroke-width="1.7" stroke-linecap="round"/><line x1="45.5" y1="518.2" x2="43.5" y2="516.6" stroke="#ff1a0a" stroke-width="1.5" stroke-linecap="round"/><line x1="63.9" y1="462.5" x2="68.2" y2="466.5" stroke="#c80808" stroke-width="1.2" stroke-linecap="round"/><line x1="25.9" y1="499.0" x2="21.9" y2="494.4" stroke="#b00000" stroke-width="1.6" stroke-linecap="round"/><line x1="48.5" y1="464.5" x2="53.6" y2="461.9" stroke="#ff3818" stroke-width="1.2" stroke-linecap="round"/><line x1="71.5" y1="476.0" x2="70.8" y2="481.6" stroke="#ff1a0a" stroke-width="1.7" stroke-linecap="round"/><line x1="36.8" y1="466.6" x2="42.0" y2="466.1" stroke="#c80808" stroke-width="1.7" stroke-linecap="round"/><line x1="22.0" y1="477.8" x2="25.1" y2="474.8" stroke="#ff3818" stroke-width="1.3" stroke-linecap="round"/><line x1="64.1" y1="513.7" x2="58.7" y2="514.5" stroke="#ff1a0a" stroke-width="1.5" stroke-linecap="round"/><line x1="73.0" y1="476.1" x2="73.7" y2="480.2" stroke="#c80808" stroke-width="1.1" stroke-linecap="round"/><line x1="46.9" y1="510.5" x2="43.7" y2="506.9" stroke="#e81010" stroke-width="1.5" stroke-linecap="round"/><line x1="50.2" y1="512.7" x2="46.1" y2="512.1" stroke="#ff1a0a" stroke-width="1.5" stroke-linecap="round"/><line x1="19.4" y1="492.1" x2="18.6" y2="486.1" stroke="#b00000" stroke-width="1.5" stroke-linecap="round"/><line x1="23.3" y1="473.4" x2="24.3" y2="470.7" stroke="#c80808" stroke-width="1.2" stroke-linecap="round"/><line x1="23.6" y1="494.6" x2="23.2" y2="490.6" stroke="#ff1a0a" stroke-width="1.5" stroke-linecap="round"/><line x1="54.0" y1="463.1" x2="57.7" y2="462.2" stroke="#ff3818" stroke-width="1.4" stroke-linecap="round"/><line x1="65.4" y1="467.9" x2="66.3" y2="472.8" stroke="#b00000" stroke-width="1.0" stroke-linecap="round"/><line x1="53.2" y1="514.4" x2="48.7" y2="514.3" stroke="#e81010" stroke-width="1.4" stroke-linecap="round"/><line x1="49.3" y1="458.9" x2="52.4" y2="458.2" stroke="#e81010" stroke-width="1.8" stroke-linecap="round"/><line x1="61.0" y1="512.2" x2="57.9" y2="513.9" stroke="#ff2010" stroke-width="1.1" stroke-linecap="round"/><line x1="69.3" y1="464.6" x2="73.3" y2="467.9" stroke="#ff3818" stroke-width="1.5" stroke-linecap="round"/><line x1="57.6" y1="459.4" x2="62.1" y2="458.7" stroke="#ff3818" stroke-width="1.1" stroke-linecap="round"/><line x1="61.7" y1="513.4" x2="57.1" y2="515.0" stroke="#e81010" stroke-width="1.3" stroke-linecap="round"/><line x1="36.0" y1="506.0" x2="31.5" y2="502.8" stroke="#e81010" stroke-width="1.5" stroke-linecap="round"/><line x1="41.3" y1="460.8" x2="44.4" y2="459.6" stroke="#ff1a0a" stroke-width="1.2" stroke-linecap="round"/><line x1="68.7" y1="469.7" x2="70.1" y2="472.0" stroke="#c80808" stroke-width="1.2" stroke-linecap="round"/><line x1="35.2" y1="471.3" x2="38.1" y2="468.2" stroke="#b00000" stroke-width="1.3" stroke-linecap="round"/><line x1="45.0" y1="458.9" x2="46.9" y2="457.2" stroke="#ff3818" stroke-width="1.1" stroke-linecap="round"/><line x1="50.3" y1="516.9" x2="45.8" y2="516.8" stroke="#ff3818" stroke-width="1.4" stroke-linecap="round"/><line x1="39.7" y1="508.9" x2="36.1" y2="507.4" stroke="#ff2010" stroke-width="1.5" stroke-linecap="round"/></g>
<g filter="url(#bl)"><line x1="64.3" y1="519.5" x2="65.9" y2="522.6" stroke="#ffb020" stroke-width="1.1"/><line x1="58.7" y1="517.3" x2="59.9" y2="520.8" stroke="#e8d030" stroke-width="1.1"/><line x1="36.7" y1="515.1" x2="35.8" y2="517.3" stroke="#d8e040" stroke-width="1.1"/><line x1="17.4" y1="484.7" x2="13.2" y2="484.2" stroke="#d8e040" stroke-width="1.1"/><line x1="30.8" y1="463.9" x2="29.4" y2="461.9" stroke="#f0a020" stroke-width="1.1"/><line x1="69.6" y1="463.6" x2="72.2" y2="460.6" stroke="#ffb020" stroke-width="1.1"/><line x1="58.8" y1="458.6" x2="60.2" y2="454.6" stroke="#ffb020" stroke-width="1.1"/><line x1="60.1" y1="458.9" x2="61.3" y2="455.9" stroke="#c8d838" stroke-width="1.1"/><line x1="17.3" y1="495.7" x2="14.4" y2="496.4" stroke="#c8d838" stroke-width="1.1"/><line x1="45.3" y1="519.6" x2="45.0" y2="522.9" stroke="#e8d030" stroke-width="1.1"/><line x1="40.3" y1="462.7" x2="39.8" y2="460.9" stroke="#c8d838" stroke-width="1.1"/><line x1="30.6" y1="467.8" x2="28.8" y2="465.7" stroke="#d8e040" stroke-width="1.1"/><line x1="56.7" y1="458.0" x2="57.2" y2="456.5" stroke="#f0a020" stroke-width="1.1"/><line x1="23.0" y1="504.2" x2="20.7" y2="505.7" stroke="#ffb020" stroke-width="1.1"/><line x1="27.6" y1="469.4" x2="24.9" y2="467.0" stroke="#ffb020" stroke-width="1.1"/><line x1="26.2" y1="470.5" x2="22.8" y2="467.7" stroke="#d8e040" stroke-width="1.1"/><line x1="21.2" y1="495.0" x2="18.9" y2="495.6" stroke="#c8d838" stroke-width="1.1"/><line x1="31.4" y1="510.8" x2="29.4" y2="513.4" stroke="#c8d838" stroke-width="1.1"/><line x1="28.9" y1="467.2" x2="26.9" y2="465.1" stroke="#f0a020" stroke-width="1.1"/><line x1="17.5" y1="494.9" x2="13.2" y2="495.8" stroke="#f0a020" stroke-width="1.1"/><line x1="65.3" y1="518.2" x2="66.1" y2="519.7" stroke="#ffb020" stroke-width="1.1"/><line x1="65.5" y1="515.0" x2="67.3" y2="517.7" stroke="#ffb020" stroke-width="1.1"/><line x1="77.4" y1="494.2" x2="79.7" y2="494.6" stroke="#ffb020" stroke-width="1.1"/><line x1="74.8" y1="504.2" x2="78.2" y2="506.3" stroke="#d8e040" stroke-width="1.1"/><line x1="54.9" y1="518.8" x2="55.2" y2="520.5" stroke="#f0a020" stroke-width="1.1"/><line x1="74.5" y1="469.8" x2="76.8" y2="468.2" stroke="#f0a020" stroke-width="1.1"/><line x1="60.9" y1="457.1" x2="61.8" y2="455.0" stroke="#d8e040" stroke-width="1.1"/><line x1="49.0" y1="457.2" x2="49.0" y2="454.0" stroke="#e8d030" stroke-width="1.1"/><line x1="58.0" y1="455.7" x2="59.0" y2="452.4" stroke="#d8e040" stroke-width="1.1"/><line x1="73.1" y1="503.3" x2="75.6" y2="504.8" stroke="#f0a020" stroke-width="1.1"/><line x1="77.3" y1="489.1" x2="80.9" y2="489.2" stroke="#f0a020" stroke-width="1.1"/><line x1="18.9" y1="494.5" x2="15.0" y2="495.3" stroke="#e8d030" stroke-width="1.1"/><line x1="33.6" y1="509.1" x2="31.9" y2="511.5" stroke="#f0a020" stroke-width="1.1"/><line x1="48.5" y1="519.5" x2="48.5" y2="521.3" stroke="#f0a020" stroke-width="1.1"/><line x1="30.5" y1="463.4" x2="28.9" y2="461.2" stroke="#d8e040" stroke-width="1.1"/><line x1="19.0" y1="483.9" x2="16.1" y2="483.5" stroke="#e8d030" stroke-width="1.1"/><line x1="38.3" y1="460.5" x2="37.7" y2="458.9" stroke="#d8e040" stroke-width="1.1"/><line x1="24.3" y1="472.4" x2="21.3" y2="470.4" stroke="#d8e040" stroke-width="1.1"/><line x1="70.4" y1="489.2" x2="71.9" y2="489.2" stroke="#f0d040" stroke-width="1.2" stroke-linecap="round"/><line x1="63.6" y1="515.7" x2="64.7" y2="517.8" stroke="#e0e050" stroke-width="1.2" stroke-linecap="round"/><line x1="46.3" y1="462.1" x2="46.1" y2="460.2" stroke="#f0d040" stroke-width="1.2" stroke-linecap="round"/><line x1="32.9" y1="502.9" x2="31.5" y2="504.2" stroke="#e0e050" stroke-width="1.2" stroke-linecap="round"/><line x1="47.4" y1="510.6" x2="47.4" y2="513.0" stroke="#f0d040" stroke-width="1.2" stroke-linecap="round"/><line x1="69.1" y1="470.1" x2="70.9" y2="468.5" stroke="#f0d040" stroke-width="1.2" stroke-linecap="round"/><line x1="21.2" y1="490.9" x2="19.5" y2="491.1" stroke="#ffc030" stroke-width="1.2" stroke-linecap="round"/><line x1="51.3" y1="511.6" x2="51.7" y2="514.8" stroke="#ffb020" stroke-width="1.2" stroke-linecap="round"/><line x1="37.3" y1="469.9" x2="36.6" y2="468.7" stroke="#e0e050" stroke-width="1.2" stroke-linecap="round"/><line x1="49.7" y1="462.5" x2="49.8" y2="460.7" stroke="#ffb020" stroke-width="1.2" stroke-linecap="round"/><line x1="29.3" y1="503.9" x2="28.0" y2="505.0" stroke="#e0e050" stroke-width="1.2" stroke-linecap="round"/><line x1="25.0" y1="487.2" x2="23.1" y2="487.1" stroke="#ffc030" stroke-width="1.2" stroke-linecap="round"/><line x1="72.4" y1="494.3" x2="73.6" y2="494.6" stroke="#f0d040" stroke-width="1.2" stroke-linecap="round"/><line x1="28.7" y1="469.8" x2="26.9" y2="468.1" stroke="#ffb020" stroke-width="1.2" stroke-linecap="round"/><line x1="26.4" y1="504.7" x2="24.3" y2="506.2" stroke="#ffb020" stroke-width="1.2" stroke-linecap="round"/><line x1="74.4" y1="475.1" x2="76.6" y2="474.0" stroke="#f0d040" stroke-width="1.2" stroke-linecap="round"/><line x1="70.5" y1="470.1" x2="71.9" y2="469.0" stroke="#ffc030" stroke-width="1.2" stroke-linecap="round"/><line x1="64.5" y1="508.4" x2="65.4" y2="509.6" stroke="#e0e050" stroke-width="1.2" stroke-linecap="round"/><line x1="46.5" y1="512.2" x2="46.4" y2="514.3" stroke="#e0e050" stroke-width="1.2" stroke-linecap="round"/><line x1="66.4" y1="464.8" x2="67.7" y2="463.0" stroke="#ffc030" stroke-width="1.2" stroke-linecap="round"/><line x1="23.5" y1="477.1" x2="20.6" y2="475.8" stroke="#f0d040" stroke-width="1.2" stroke-linecap="round"/><line x1="61.8" y1="515.7" x2="62.4" y2="517.0" stroke="#ffb020" stroke-width="1.2" stroke-linecap="round"/><line x1="63.3" y1="461.0" x2="64.1" y2="459.5" stroke="#ffc030" stroke-width="1.2" stroke-linecap="round"/><line x1="24.5" y1="481.7" x2="22.3" y2="481.1" stroke="#f0d040" stroke-width="1.2" stroke-linecap="round"/><line x1="23.9" y1="500.2" x2="21.7" y2="501.3" stroke="#f0d040" stroke-width="1.2" stroke-linecap="round"/><line x1="69.2" y1="471.6" x2="71.4" y2="469.8" stroke="#ffc030" stroke-width="1.2" stroke-linecap="round"/><line x1="53.4" y1="513.8" x2="53.9" y2="516.5" stroke="#e0e050" stroke-width="1.2" stroke-linecap="round"/><line x1="72.5" y1="498.5" x2="74.3" y2="499.2" stroke="#ffb020" stroke-width="1.2" stroke-linecap="round"/><line x1="69.5" y1="465.4" x2="71.2" y2="463.5" stroke="#ffb020" stroke-width="1.2" stroke-linecap="round"/><line x1="74.4" y1="498.2" x2="77.0" y2="499.2" stroke="#e0e050" stroke-width="1.2" stroke-linecap="round"/><line x1="43.4" y1="466.8" x2="42.7" y2="463.9" stroke="#ffb020" stroke-width="1.2" stroke-linecap="round"/><line x1="72.0" y1="478.7" x2="74.6" y2="477.7" stroke="#ffc030" stroke-width="1.2" stroke-linecap="round"/><circle cx="72.2" cy="517.2" r="0.6" fill="#304818"/><circle cx="74.5" cy="452.4" r="0.6" fill="#304818"/><circle cx="61.9" cy="529.9" r="0.6" fill="#405020"/><circle cx="10.5" cy="493.0" r="0.6" fill="#405020"/><circle cx="73.3" cy="517.9" r="0.6" fill="#503010"/><circle cx="11.3" cy="479.0" r="0.6" fill="#304818"/><circle cx="87.2" cy="480.0" r="0.6" fill="#405020"/><circle cx="21.6" cy="509.5" r="0.6" fill="#405020"/><circle cx="68.3" cy="452.7" r="0.6" fill="#405020"/><circle cx="38.0" cy="523.3" r="0.6" fill="#405020"/><circle cx="50.7" cy="524.0" r="0.6" fill="#503010"/><circle cx="87.7" cy="486.1" r="0.6" fill="#503010"/><circle cx="15.5" cy="506.4" r="0.6" fill="#405020"/><circle cx="62.7" cy="453.2" r="0.6" fill="#405020"/><circle cx="69.7" cy="518.5" r="0.6" fill="#304818"/><circle cx="75.1" cy="461.1" r="0.6" fill="#405020"/><circle cx="69.0" cy="449.8" r="0.6" fill="#405020"/><circle cx="65.9" cy="528.6" r="0.6" fill="#405020"/><circle cx="76.8" cy="453.6" r="0.6" fill="#405020"/><circle cx="62.5" cy="525.6" r="0.6" fill="#304818"/><circle cx="29.8" cy="514.6" r="0.6" fill="#503010"/><circle cx="31.0" cy="514.6" r="0.6" fill="#304818"/><circle cx="76.3" cy="458.0" r="0.6" fill="#304818"/><circle cx="86.1" cy="471.3" r="0.6" fill="#405020"/><circle cx="14.7" cy="471.9" r="0.6" fill="#304818"/></g>
</g>
<g clip-path="url(#c2)">
<clipPath id="s2"><path d="M121.1,460.1 L125.1,458.1 L129.8,461.4 L135.2,462.8 L135.9,456.7 L138.6,458.1 L139.9,462.8 L143.9,464.8 L148.6,463.5 L151.3,459.4 L153.4,454.0 L156.0,454.7 L155.4,459.4 L158.1,458.1 L162.1,454.0 L165.5,452.7 L166.8,455.4 L162.8,460.1 L159.4,464.8 L156.7,469.5 L158.1,473.6 L161.4,474.9 L166.1,472.2 L170.2,468.8 L174.9,468.8 L176.2,471.5 L174.2,474.9 L178.3,477.6 L179.6,480.3 L176.9,483.0 L171.5,483.6 L166.1,482.3 L160.8,481.6 L156.7,483.6 L156.0,489.0 L156.0,494.4 L158.1,498.5 L162.1,500.5 L166.8,501.8 L171.5,503.8 L176.2,505.9 L175.6,507.9 L170.2,507.9 L166.8,509.2 L166.1,513.3 L164.1,514.6 L160.8,513.3 L158.1,509.9 L154.7,506.5 L152.0,507.9 L150.0,511.9 L148.6,515.9 L148.0,519.3 L145.3,520.7 L143.3,518.6 L142.6,514.6 L140.6,512.6 L136.5,511.2 L132.5,509.9 L127.8,509.2 L123.7,507.9 L122.4,505.2 L125.1,502.5 L129.1,499.8 L133.8,497.1 L136.5,493.1 L137.2,487.7 L136.5,482.3 L135.2,478.3 L131.8,474.9 L128.5,472.2 L125.8,468.8 L122.4,465.5 L120.4,462.8 Z"/></clipPath>
<path d="M121.1,460.1 L125.1,458.1 L129.8,461.4 L135.2,462.8 L135.9,456.7 L138.6,458.1 L139.9,462.8 L143.9,464.8 L148.6,463.5 L151.3,459.4 L153.4,454.0 L156.0,454.7 L155.4,459.4 L158.1,458.1 L162.1,454.0 L165.5,452.7 L166.8,455.4 L162.8,460.1 L159.4,464.8 L156.7,469.5 L158.1,473.6 L161.4,474.9 L166.1,472.2 L170.2,468.8 L174.9,468.8 L176.2,471.5 L174.2,474.9 L178.3,477.6 L179.6,480.3 L176.9,483.0 L171.5,483.6 L166.1,482.3 L160.8,481.6 L156.7,483.6 L156.0,489.0 L156.0,494.4 L158.1,498.5 L162.1,500.5 L166.8,501.8 L171.5,503.8 L176.2,505.9 L175.6,507.9 L170.2,507.9 L166.8,509.2 L166.1,513.3 L164.1,514.6 L160.8,513.3 L158.1,509.9 L154.7,506.5 L152.0,507.9 L150.0,511.9 L148.6,515.9 L148.0,519.3 L145.3,520.7 L143.3,518.6 L142.6,514.6 L140.6,512.6 L136.5,511.2 L132.5,509.9 L127.8,509.2 L123.7,507.9 L122.4,505.2 L125.1,502.5 L129.1,499.8 L133.8,497.1 L136.5,493.1 L137.2,487.7 L136.5,482.3 L135.2,478.3 L131.8,474.9 L128.5,472.2 L125.8,468.8 L122.4,465.5 L120.4,462.8 Z" fill="#c00a06" stroke="#ff1a0a" stroke-width="1.6" stroke-linejoin="round" filter="url(#bl)"/>
<g clip-path="url(#s2)"><g filter="url(#bl)"><circle cx="181.2" cy="455.0" r="0.6" fill="#ff2a14"/><circle cx="119.2" cy="465.9" r="0.8" fill="#500000"/><circle cx="141.2" cy="475.4" r="1.1" fill="#600000"/><circle cx="156.5" cy="474.5" r="1.2" fill="#ff2010"/><circle cx="148.6" cy="453.2" r="1.1" fill="#ff2010"/><circle cx="153.2" cy="501.2" r="0.8" fill="#ff2010"/><circle cx="151.9" cy="470.4" r="0.5" fill="#ff2010"/><circle cx="148.4" cy="497.5" r="0.6" fill="#ff2a14"/><circle cx="158.2" cy="479.5" r="1.3" fill="#500000"/><circle cx="158.0" cy="459.7" r="1.0" fill="#700404"/><circle cx="129.6" cy="517.7" r="1.2" fill="#ff2a14"/><circle cx="175.8" cy="512.8" r="1.0" fill="#600000"/><circle cx="140.5" cy="501.4" r="1.4" fill="#ff1a0a"/><circle cx="149.9" cy="496.2" r="1.3" fill="#ff2a14"/><circle cx="142.9" cy="466.1" r="0.6" fill="#3a0000"/><circle cx="164.9" cy="455.6" r="1.1" fill="#e01008"/><circle cx="140.4" cy="467.2" r="0.9" fill="#e01008"/><circle cx="176.8" cy="518.1" r="0.5" fill="#700404"/><circle cx="119.3" cy="501.4" r="0.7" fill="#700404"/><circle cx="131.0" cy="504.9" r="0.8" fill="#ff2010"/><circle cx="181.6" cy="466.4" r="0.9" fill="#600000"/><circle cx="177.8" cy="505.6" r="1.2" fill="#600000"/><circle cx="136.1" cy="474.5" r="1.3" fill="#ff1a0a"/><circle cx="134.0" cy="473.7" r="0.7" fill="#ff1a0a"/><circle cx="121.3" cy="506.5" r="0.5" fill="#ff2a14"/><circle cx="167.5" cy="482.2" r="1.3" fill="#e01008"/><circle cx="181.7" cy="472.1" r="1.2" fill="#3a0000"/><circle cx="127.7" cy="515.8" r="1.3" fill="#600000"/><circle cx="127.7" cy="503.3" r="1.2" fill="#500000"/><circle cx="147.7" cy="479.2" r="0.8" fill="#e01008"/><circle cx="176.8" cy="501.9" r="1.4" fill="#ff2a14"/><circle cx="120.1" cy="467.7" r="0.5" fill="#3a0000"/><circle cx="150.3" cy="467.4" r="1.1" fill="#e01008"/><circle cx="164.6" cy="454.4" r="0.6" fill="#ff2a14"/><circle cx="125.1" cy="519.0" r="1.0" fill="#600000"/><circle cx="118.2" cy="466.9" r="1.1" fill="#600000"/><circle cx="152.9" cy="521.5" r="1.3" fill="#ff2a14"/><circle cx="179.3" cy="456.5" r="1.3" fill="#700404"/><circle cx="180.2" cy="466.9" r="0.7" fill="#500000"/><circle cx="129.3" cy="469.8" r="1.4" fill="#500000"/><circle cx="130.6" cy="454.4" r="0.7" fill="#ff2a14"/><circle cx="138.8" cy="453.9" r="1.0" fill="#ff1a0a"/><circle cx="153.1" cy="500.0" r="0.9" fill="#ff2010"/><circle cx="138.4" cy="480.8" r="0.8" fill="#600000"/><circle cx="142.7" cy="480.1" r="1.3" fill="#600000"/><circle cx="158.6" cy="468.0" r="1.1" fill="#ff2010"/><circle cx="164.7" cy="521.4" r="1.1" fill="#700404"/><circle cx="123.6" cy="495.1" r="1.3" fill="#3a0000"/><circle cx="121.2" cy="500.3" r="1.1" fill="#ff2a14"/><circle cx="146.3" cy="498.4" r="1.4" fill="#ff1a0a"/><circle cx="118.1" cy="504.0" r="1.0" fill="#ff1a0a"/><circle cx="155.9" cy="521.6" r="1.2" fill="#700404"/><circle cx="168.6" cy="512.7" r="1.1" fill="#ff2a14"/><circle cx="143.2" cy="488.4" r="0.6" fill="#ff2a14"/><circle cx="169.0" cy="498.2" r="0.7" fill="#ff2010"/><circle cx="171.8" cy="511.9" r="1.0" fill="#ff2a14"/><circle cx="148.5" cy="466.7" r="0.6" fill="#600000"/><circle cx="166.5" cy="476.9" r="1.0" fill="#700404"/><circle cx="170.1" cy="467.9" r="0.6" fill="#600000"/><circle cx="160.4" cy="463.6" r="0.8" fill="#3a0000"/><circle cx="141.2" cy="512.3" r="0.6" fill="#e01008"/><circle cx="127.8" cy="468.9" r="0.8" fill="#500000"/><circle cx="160.4" cy="488.1" r="0.9" fill="#ff2010"/><circle cx="123.6" cy="479.1" r="1.1" fill="#ff1a0a"/><circle cx="146.8" cy="485.0" r="1.2" fill="#600000"/><circle cx="127.6" cy="499.3" r="0.9" fill="#ff2a14"/><circle cx="160.3" cy="495.2" r="1.2" fill="#ff2a14"/><circle cx="134.2" cy="490.5" r="1.0" fill="#3a0000"/><circle cx="121.7" cy="463.7" r="1.3" fill="#ff2010"/><circle cx="134.4" cy="469.8" r="0.6" fill="#ff1a0a"/><circle cx="158.7" cy="512.0" r="0.6" fill="#700404"/><circle cx="179.3" cy="471.6" r="1.3" fill="#ff2a14"/><circle cx="163.9" cy="477.7" r="1.1" fill="#3a0000"/><circle cx="136.9" cy="480.0" r="0.8" fill="#ff2010"/><circle cx="142.7" cy="492.1" r="1.4" fill="#700404"/><circle cx="172.5" cy="492.2" r="1.1" fill="#500000"/><circle cx="139.1" cy="456.0" r="0.8" fill="#ff1a0a"/><circle cx="151.7" cy="486.3" r="0.6" fill="#3a0000"/><circle cx="154.1" cy="517.4" r="0.9" fill="#e01008"/><circle cx="148.3" cy="514.2" r="0.9" fill="#ff1a0a"/><circle cx="126.7" cy="504.4" r="1.1" fill="#3a0000"/><circle cx="165.4" cy="479.5" r="1.3" fill="#3a0000"/><circle cx="136.8" cy="474.4" r="1.2" fill="#e01008"/><circle cx="125.6" cy="466.7" r="1.0" fill="#500000"/><circle cx="119.0" cy="486.3" r="1.0" fill="#700404"/><circle cx="121.5" cy="499.3" r="0.9" fill="#ff2a14"/><circle cx="121.5" cy="500.1" r="1.3" fill="#e01008"/><circle cx="127.0" cy="479.9" r="1.3" fill="#3a0000"/><circle cx="127.3" cy="474.7" r="0.7" fill="#3a0000"/><circle cx="152.5" cy="487.9" r="0.8" fill="#500000"/><circle cx="134.3" cy="512.0" r="1.0" fill="#e01008"/><circle cx="144.9" cy="454.6" r="0.7" fill="#ff2010"/><circle cx="142.3" cy="482.0" r="0.8" fill="#ff2010"/><circle cx="126.4" cy="465.7" r="1.3" fill="#ff2a14"/><circle cx="160.0" cy="501.4" r="0.8" fill="#600000"/><circle cx="169.3" cy="465.2" r="1.2" fill="#3a0000"/><circle cx="118.5" cy="455.8" r="0.5" fill="#ff2a14"/><circle cx="132.1" cy="482.2" r="1.1" fill="#700404"/><circle cx="169.4" cy="493.0" r="0.9" fill="#ff1a0a"/><circle cx="164.6" cy="465.5" r="0.6" fill="#700404"/><circle cx="145.8" cy="496.4" r="0.6" fill="#3a0000"/><circle cx="174.3" cy="508.8" r="0.7" fill="#ff1a0a"/><circle cx="177.0" cy="490.8" r="0.9" fill="#600000"/><circle cx="161.1" cy="498.9" r="1.2" fill="#ff2010"/><circle cx="152.2" cy="462.3" r="1.0" fill="#700404"/><circle cx="147.8" cy="465.3" r="1.4" fill="#500000"/><circle cx="144.5" cy="497.8" r="1.1" fill="#ff2010"/><circle cx="146.3" cy="481.1" r="1.3" fill="#3a0000"/><circle cx="126.5" cy="462.4" r="0.8" fill="#ff1a0a"/><circle cx="132.9" cy="492.3" r="1.1" fill="#ff2a14"/><circle cx="164.0" cy="473.0" r="0.8" fill="#ff2010"/><circle cx="171.8" cy="461.8" r="0.9" fill="#700404"/><circle cx="120.1" cy="478.0" r="0.7" fill="#ff2010"/><circle cx="152.9" cy="457.6" r="0.6" fill="#ff1a0a"/><circle cx="129.8" cy="474.7" r="0.6" fill="#e01008"/><circle cx="171.0" cy="459.7" r="1.4" fill="#700404"/><circle cx="178.1" cy="488.4" r="0.9" fill="#ff2010"/><circle cx="119.1" cy="506.5" r="0.7" fill="#500000"/><circle cx="135.9" cy="472.5" r="0.7" fill="#500000"/><circle cx="148.1" cy="505.5" r="1.0" fill="#700404"/><circle cx="137.2" cy="492.2" r="1.4" fill="#500000"/><circle cx="140.0" cy="518.1" r="0.5" fill="#ff2010"/><circle cx="139.3" cy="482.9" r="0.8" fill="#700404"/><circle cx="141.3" cy="458.8" r="1.2" fill="#ff2010"/><circle cx="164.3" cy="483.3" r="1.2" fill="#500000"/><circle cx="156.1" cy="483.8" r="0.5" fill="#3a0000"/><circle cx="155.1" cy="480.3" r="0.9" fill="#600000"/><circle cx="171.6" cy="456.4" r="0.8" fill="#600000"/><circle cx="160.4" cy="457.4" r="1.3" fill="#3a0000"/><circle cx="173.9" cy="485.1" r="0.7" fill="#600000"/><circle cx="124.8" cy="467.9" r="0.9" fill="#600000"/><circle cx="152.3" cy="459.3" r="0.7" fill="#ff1a0a"/><circle cx="154.4" cy="454.0" r="0.8" fill="#ff2010"/><circle cx="130.7" cy="479.7" r="1.4" fill="#700404"/><circle cx="176.1" cy="502.6" r="1.3" fill="#700404"/><circle cx="119.0" cy="518.0" r="1.2" fill="#ff1a0a"/><circle cx="162.9" cy="466.0" r="0.6" fill="#700404"/><circle cx="129.0" cy="510.7" r="0.9" fill="#3a0000"/><circle cx="158.0" cy="458.8" r="0.6" fill="#500000"/><circle cx="155.0" cy="467.6" r="1.2" fill="#3a0000"/><circle cx="122.7" cy="474.9" r="0.5" fill="#500000"/><circle cx="157.6" cy="500.1" r="0.8" fill="#ff2010"/><circle cx="169.9" cy="483.8" r="0.5" fill="#600000"/><circle cx="178.2" cy="480.2" r="0.5" fill="#e01008"/><circle cx="168.5" cy="461.5" r="0.6" fill="#600000"/><circle cx="140.0" cy="461.0" r="1.3" fill="#700404"/><circle cx="161.9" cy="501.3" r="1.4" fill="#500000"/><circle cx="168.7" cy="485.1" r="1.0" fill="#ff1a0a"/><circle cx="139.1" cy="455.9" r="0.7" fill="#500000"/><circle cx="158.0" cy="511.0" r="0.6" fill="#e01008"/><circle cx="163.9" cy="475.8" r="1.2" fill="#600000"/><circle cx="149.5" cy="505.8" r="0.6" fill="#ff1a0a"/><circle cx="171.0" cy="517.5" r="1.2" fill="#3a0000"/><circle cx="171.3" cy="508.0" r="0.9" fill="#600000"/><circle cx="170.8" cy="506.7" r="1.2" fill="#ff2010"/><circle cx="156.0" cy="497.5" r="0.6" fill="#500000"/><circle cx="168.1" cy="508.0" r="0.7" fill="#700404"/><circle cx="155.6" cy="490.9" r="1.0" fill="#ff1a0a"/><circle cx="177.7" cy="514.2" r="0.9" fill="#3a0000"/><circle cx="168.2" cy="507.3" r="1.2" fill="#ff2a14"/><circle cx="144.0" cy="457.2" r="1.1" fill="#ff2a14"/><circle cx="175.9" cy="481.3" r="0.5" fill="#ff2010"/><circle cx="149.3" cy="452.2" r="1.3" fill="#500000"/><circle cx="148.4" cy="480.2" r="0.9" fill="#ff2010"/><circle cx="139.5" cy="466.2" r="0.9" fill="#ff2a14"/><circle cx="147.8" cy="453.3" r="0.6" fill="#ff2a14"/><circle cx="135.3" cy="500.8" r="0.9" fill="#ff1a0a"/><circle cx="152.4" cy="468.2" r="1.1" fill="#700404"/><circle cx="120.7" cy="509.4" r="0.9" fill="#600000"/><circle cx="139.3" cy="461.7" r="0.7" fill="#600000"/><circle cx="175.0" cy="494.3" r="0.8" fill="#e01008"/><circle cx="138.4" cy="513.2" r="1.3" fill="#700404"/><circle cx="180.0" cy="478.8" r="0.5" fill="#3a0000"/><circle cx="129.2" cy="518.1" r="1.0" fill="#ff1a0a"/><circle cx="160.1" cy="503.3" r="1.4" fill="#500000"/><circle cx="165.0" cy="504.5" r="0.6" fill="#e01008"/><circle cx="166.2" cy="469.0" r="0.6" fill="#e01008"/><circle cx="157.9" cy="482.5" r="0.8" fill="#ff2010"/><circle cx="160.3" cy="495.9" r="1.3" fill="#e01008"/><circle cx="169.8" cy="455.2" r="0.9" fill="#ff1a0a"/><circle cx="162.3" cy="452.3" r="1.0" fill="#500000"/><circle cx="146.7" cy="504.3" r="1.2" fill="#600000"/><circle cx="166.0" cy="453.5" r="0.9" fill="#ff2a14"/><circle cx="118.5" cy="517.5" r="0.6" fill="#ff2010"/><circle cx="155.6" cy="492.0" r="1.4" fill="#3a0000"/><circle cx="129.1" cy="492.9" r="1.1" fill="#ff2010"/><circle cx="133.5" cy="505.9" r="0.9" fill="#3a0000"/><circle cx="180.6" cy="497.1" r="0.9" fill="#e01008"/><circle cx="180.4" cy="476.6" r="0.8" fill="#ff2010"/><circle cx="171.3" cy="486.2" r="1.2" fill="#3a0000"/><circle cx="140.2" cy="460.9" r="0.6" fill="#3a0000"/><circle cx="165.3" cy="463.1" r="1.3" fill="#ff2010"/><circle cx="155.6" cy="520.0" r="1.4" fill="#ff2a14"/><circle cx="130.0" cy="473.0" r="0.7" fill="#ff1a0a"/><circle cx="138.5" cy="482.1" r="1.1" fill="#500000"/><circle cx="141.2" cy="473.7" r="0.7" fill="#ff1a0a"/><circle cx="131.1" cy="515.5" r="1.0" fill="#ff1a0a"/><circle cx="144.1" cy="462.3" r="0.5" fill="#ff2a14"/><circle cx="135.8" cy="489.0" r="1.2" fill="#e01008"/><circle cx="135.6" cy="476.8" r="1.0" fill="#e01008"/><circle cx="136.5" cy="495.7" r="0.9" fill="#ff2010"/><circle cx="118.8" cy="488.8" r="0.8" fill="#ff2010"/><circle cx="178.2" cy="469.9" r="1.3" fill="#700404"/><circle cx="174.0" cy="457.8" r="1.3" fill="#e01008"/><circle cx="163.6" cy="517.0" r="1.1" fill="#600000"/><circle cx="179.9" cy="496.0" r="1.2" fill="#500000"/><circle cx="143.2" cy="517.8" r="0.9" fill="#ff2a14"/><circle cx="150.0" cy="474.9" r="1.1" fill="#600000"/><circle cx="127.2" cy="503.2" r="1.1" fill="#e01008"/><circle cx="175.7" cy="460.5" r="1.1" fill="#ff2a14"/><circle cx="177.2" cy="455.7" r="1.3" fill="#3a0000"/><circle cx="160.7" cy="492.0" r="0.7" fill="#e01008"/><circle cx="164.6" cy="506.7" r="0.6" fill="#600000"/><circle cx="161.0" cy="504.5" r="1.3" fill="#500000"/><circle cx="175.5" cy="503.8" r="1.3" fill="#e01008"/><circle cx="126.4" cy="501.0" r="1.1" fill="#e01008"/><circle cx="135.6" cy="455.8" r="1.0" fill="#ff2010"/><circle cx="175.8" cy="473.0" r="1.1" fill="#ff2a14"/><circle cx="180.4" cy="507.9" r="0.5" fill="#ff2a14"/><circle cx="151.1" cy="459.7" r="0.7" fill="#ff2a14"/><circle cx="147.3" cy="505.2" r="0.7" fill="#ff1a0a"/><circle cx="121.8" cy="482.6" r="0.5" fill="#3a0000"/><circle cx="171.0" cy="458.8" r="0.8" fill="#700404"/><circle cx="177.9" cy="519.5" r="0.7" fill="#700404"/><circle cx="168.8" cy="465.8" r="0.7" fill="#3a0000"/><circle cx="129.1" cy="508.6" r="0.9" fill="#ff2010"/><circle cx="122.0" cy="495.7" r="1.0" fill="#500000"/><circle cx="143.6" cy="487.4" r="0.7" fill="#e01008"/><circle cx="173.5" cy="521.7" r="1.4" fill="#ff2a14"/><circle cx="139.1" cy="521.0" r="1.1" fill="#500000"/><circle cx="154.8" cy="481.6" r="0.7" fill="#ff1a0a"/><circle cx="157.4" cy="458.9" r="0.8" fill="#600000"/><circle cx="130.4" cy="503.3" r="0.9" fill="#3a0000"/><circle cx="130.7" cy="501.0" r="1.2" fill="#700404"/><circle cx="130.9" cy="504.6" r="1.2" fill="#ff2010"/><circle cx="178.7" cy="516.3" r="0.6" fill="#3a0000"/><circle cx="131.2" cy="451.9" r="1.0" fill="#ff2010"/><circle cx="158.2" cy="491.1" r="1.4" fill="#ff2a14"/><circle cx="137.6" cy="454.1" r="1.1" fill="#600000"/><circle cx="144.9" cy="453.1" r="1.2" fill="#ff1a0a"/><circle cx="139.9" cy="511.9" r="1.2" fill="#ff2a14"/><circle cx="148.2" cy="521.3" r="1.2" fill="#ff2a14"/><circle cx="148.5" cy="509.4" r="1.3" fill="#600000"/><circle cx="151.8" cy="468.8" r="0.7" fill="#e01008"/><circle cx="134.1" cy="452.5" r="1.1" fill="#700404"/><circle cx="178.5" cy="520.6" r="1.2" fill="#e01008"/><circle cx="164.4" cy="462.4" r="0.6" fill="#e01008"/><circle cx="118.8" cy="466.2" r="0.5" fill="#e01008"/><circle cx="170.0" cy="520.1" r="0.9" fill="#500000"/><circle cx="120.8" cy="514.1" r="1.3" fill="#500000"/><circle cx="139.7" cy="490.7" r="0.9" fill="#ff1a0a"/><circle cx="158.9" cy="465.6" r="0.7" fill="#700404"/><circle cx="140.7" cy="513.5" r="1.0" fill="#500000"/><circle cx="126.1" cy="465.2" r="1.0" fill="#ff1a0a"/><circle cx="176.9" cy="499.7" r="1.2" fill="#ff1a0a"/><circle cx="154.5" cy="502.1" r="0.7" fill="#ff1a0a"/><circle cx="159.7" cy="512.2" r="1.1" fill="#700404"/><circle cx="148.1" cy="513.5" r="0.6" fill="#600000"/><circle cx="149.9" cy="478.1" r="1.2" fill="#700404"/><circle cx="174.9" cy="451.3" r="1.1" fill="#700404"/><circle cx="165.5" cy="453.7" r="1.3" fill="#500000"/><circle cx="130.8" cy="451.1" r="0.5" fill="#ff1a0a"/><circle cx="133.4" cy="517.1" r="1.2" fill="#700404"/><circle cx="120.8" cy="490.5" r="0.7" fill="#e01008"/><circle cx="127.8" cy="452.3" r="1.2" fill="#500000"/><circle cx="174.5" cy="457.9" r="1.2" fill="#600000"/><circle cx="128.4" cy="487.4" r="1.0" fill="#500000"/><circle cx="179.2" cy="478.1" r="0.6" fill="#3a0000"/><circle cx="119.9" cy="497.0" r="1.0" fill="#500000"/><circle cx="157.7" cy="493.2" r="1.1" fill="#500000"/><circle cx="160.3" cy="494.7" r="0.9" fill="#ff1a0a"/><circle cx="118.5" cy="503.9" r="0.7" fill="#3a0000"/><circle cx="150.4" cy="510.4" r="0.6" fill="#700404"/><circle cx="159.6" cy="465.7" r="1.4" fill="#e01008"/><circle cx="157.2" cy="457.1" r="1.1" fill="#ff2a14"/><circle cx="123.6" cy="468.0" r="0.6" fill="#500000"/><circle cx="135.5" cy="473.0" r="0.6" fill="#ff2010"/><circle cx="156.8" cy="520.5" r="0.5" fill="#700404"/><circle cx="122.8" cy="459.1" r="1.0" fill="#700404"/><circle cx="147.2" cy="479.9" r="1.3" fill="#700404"/><circle cx="164.9" cy="507.6" r="1.3" fill="#3a0000"/><circle cx="163.9" cy="453.2" r="1.3" fill="#600000"/><circle cx="145.6" cy="513.3" r="1.1" fill="#600000"/><circle cx="136.8" cy="469.1" r="0.7" fill="#600000"/><circle cx="137.2" cy="475.7" r="0.8" fill="#ff2a14"/><circle cx="128.4" cy="462.6" r="1.2" fill="#ff1a0a"/><circle cx="171.6" cy="521.6" r="0.7" fill="#ff2a14"/><circle cx="134.0" cy="480.3" r="0.8" fill="#3a0000"/><circle cx="152.8" cy="476.3" r="0.5" fill="#ff2a14"/><circle cx="167.3" cy="468.0" r="1.2" fill="#ff2a14"/><circle cx="152.0" cy="458.4" r="0.9" fill="#ff2a14"/><circle cx="139.6" cy="455.6" r="1.4" fill="#500000"/><circle cx="128.3" cy="488.7" r="1.3" fill="#700404"/><circle cx="144.1" cy="515.9" r="1.1" fill="#500000"/><circle cx="132.0" cy="504.6" r="1.1" fill="#3a0000"/><circle cx="145.6" cy="459.4" r="1.0" fill="#600000"/><circle cx="157.3" cy="462.8" r="1.2" fill="#ff2010"/><circle cx="133.9" cy="469.3" r="0.6" fill="#3a0000"/><circle cx="173.4" cy="496.5" r="1.1" fill="#600000"/><circle cx="156.3" cy="500.3" r="0.6" fill="#ff2010"/><circle cx="164.7" cy="489.0" r="0.8" fill="#500000"/><circle cx="127.1" cy="459.0" r="1.1" fill="#ff1a0a"/><circle cx="150.7" cy="513.3" r="0.7" fill="#ff1a0a"/><circle cx="124.4" cy="472.5" r="1.1" fill="#e01008"/><circle cx="129.1" cy="521.2" r="1.3" fill="#500000"/><circle cx="147.5" cy="473.9" r="0.5" fill="#700404"/><circle cx="171.0" cy="467.1" r="1.2" fill="#700404"/><circle cx="160.9" cy="470.7" r="1.3" fill="#3a0000"/><circle cx="122.6" cy="457.4" r="1.1" fill="#ff2010"/><circle cx="129.6" cy="461.2" r="1.3" fill="#500000"/><circle cx="121.7" cy="469.0" r="1.0" fill="#500000"/><circle cx="132.3" cy="455.6" r="0.7" fill="#3a0000"/><circle cx="177.6" cy="517.5" r="0.8" fill="#ff2a14"/><circle cx="164.2" cy="460.8" r="0.8" fill="#ff2010"/><circle cx="128.6" cy="498.1" r="1.3" fill="#700404"/><circle cx="128.6" cy="505.0" r="0.7" fill="#3a0000"/><circle cx="130.4" cy="466.6" r="1.3" fill="#e01008"/><circle cx="133.4" cy="514.4" r="1.3" fill="#ff2010"/><circle cx="121.2" cy="498.1" r="0.7" fill="#ff2a14"/><circle cx="119.9" cy="482.1" r="0.6" fill="#500000"/><circle cx="153.5" cy="485.9" r="0.6" fill="#e01008"/><circle cx="148.7" cy="463.3" r="0.9" fill="#700404"/><circle cx="121.9" cy="464.5" r="0.8" fill="#ff2010"/><circle cx="148.0" cy="517.5" r="0.6" fill="#3a0000"/><circle cx="132.2" cy="503.8" r="0.6" fill="#e01008"/><circle cx="178.4" cy="488.3" r="1.0" fill="#700404"/><circle cx="150.7" cy="473.5" r="0.6" fill="#500000"/><circle cx="135.0" cy="516.6" r="1.2" fill="#ff1a0a"/><circle cx="126.4" cy="508.3" r="0.6" fill="#ff2a14"/><circle cx="136.0" cy="507.0" r="0.6" fill="#500000"/><circle cx="181.0" cy="485.2" r="1.0" fill="#600000"/><circle cx="158.2" cy="508.6" r="1.1" fill="#3a0000"/><circle cx="162.0" cy="453.3" r="1.2" fill="#700404"/><circle cx="160.5" cy="460.9" r="0.6" fill="#ff2a14"/><circle cx="169.4" cy="518.1" r="1.3" fill="#3a0000"/><circle cx="141.5" cy="515.1" r="1.1" fill="#600000"/><circle cx="119.0" cy="483.6" r="0.9" fill="#500000"/><circle cx="172.4" cy="471.2" r="1.3" fill="#600000"/><circle cx="137.5" cy="473.3" r="1.3" fill="#700404"/><circle cx="143.7" cy="499.2" r="0.8" fill="#3a0000"/><circle cx="149.0" cy="455.7" r="1.0" fill="#ff2a14"/><circle cx="178.7" cy="485.9" r="1.1" fill="#700404"/><circle cx="131.8" cy="510.2" r="0.8" fill="#700404"/><circle cx="168.2" cy="470.2" r="0.5" fill="#ff2a14"/><circle cx="129.4" cy="480.3" r="1.0" fill="#3a0000"/><circle cx="167.3" cy="467.9" r="0.6" fill="#3a0000"/><circle cx="170.0" cy="494.1" r="1.0" fill="#ff1a0a"/><circle cx="163.6" cy="460.8" r="1.0" fill="#700404"/><circle cx="135.5" cy="480.5" r="1.4" fill="#600000"/><circle cx="126.7" cy="473.8" r="0.7" fill="#3a0000"/><circle cx="145.1" cy="456.7" r="1.2" fill="#ff1a0a"/><circle cx="134.2" cy="491.5" r="1.3" fill="#700404"/><circle cx="179.2" cy="470.1" r="0.6" fill="#e01008"/><circle cx="145.9" cy="509.2" r="1.3" fill="#3a0000"/><circle cx="122.5" cy="504.5" r="1.3" fill="#600000"/><circle cx="144.9" cy="488.6" r="1.2" fill="#ff2010"/><circle cx="159.8" cy="487.4" r="0.9" fill="#500000"/><circle cx="150.0" cy="488.7" r="1.3" fill="#ff2a14"/><circle cx="179.6" cy="464.7" r="1.0" fill="#500000"/><circle cx="134.2" cy="478.1" r="1.1" fill="#ff2010"/><circle cx="144.4" cy="518.9" r="1.1" fill="#ff2010"/><circle cx="122.7" cy="503.6" r="0.7" fill="#ff1a0a"/><circle cx="139.0" cy="516.3" r="0.9" fill="#ff1a0a"/><circle cx="161.4" cy="501.3" r="0.9" fill="#600000"/><circle cx="138.8" cy="520.0" r="0.6" fill="#e01008"/><circle cx="180.1" cy="489.5" r="1.4" fill="#e01008"/><circle cx="175.6" cy="467.5" r="0.8" fill="#ff2a14"/><circle cx="149.6" cy="476.9" r="1.1" fill="#700404"/><circle cx="174.3" cy="459.0" r="1.3" fill="#600000"/><circle cx="157.4" cy="496.9" r="1.0" fill="#ff1a0a"/><circle cx="178.3" cy="492.0" r="0.8" fill="#ff2a14"/><circle cx="166.5" cy="473.3" r="1.1" fill="#ff1a0a"/><circle cx="161.3" cy="506.5" r="0.8" fill="#e01008"/><circle cx="179.6" cy="505.4" r="1.1" fill="#700404"/><circle cx="163.1" cy="519.6" r="0.8" fill="#700404"/><circle cx="172.4" cy="497.1" r="1.2" fill="#600000"/><circle cx="156.5" cy="511.3" r="0.7" fill="#3a0000"/><circle cx="119.0" cy="489.0" r="0.5" fill="#ff2010"/><circle cx="169.1" cy="510.4" r="1.1" fill="#500000"/><circle cx="118.3" cy="467.3" r="1.3" fill="#ff2010"/><circle cx="168.3" cy="467.8" r="0.6" fill="#3a0000"/><circle cx="177.8" cy="519.9" r="0.9" fill="#600000"/><circle cx="122.7" cy="475.8" r="0.9" fill="#ff2010"/><circle cx="148.6" cy="469.4" r="1.3" fill="#3a0000"/><circle cx="134.9" cy="469.9" r="1.1" fill="#500000"/><circle cx="162.6" cy="469.7" r="0.8" fill="#ff2a14"/><circle cx="149.5" cy="464.4" r="1.2" fill="#3a0000"/><circle cx="171.7" cy="481.0" r="1.1" fill="#ff2010"/><circle cx="132.7" cy="507.6" r="0.6" fill="#ff1a0a"/><circle cx="155.5" cy="464.6" r="1.2" fill="#ff1a0a"/><circle cx="168.6" cy="467.4" r="1.2" fill="#500000"/><circle cx="148.2" cy="481.9" r="0.7" fill="#3a0000"/><circle cx="155.3" cy="458.7" r="0.7" fill="#ff1a0a"/><circle cx="134.5" cy="481.1" r="1.2" fill="#ff2a14"/><circle cx="120.0" cy="502.4" r="1.0" fill="#700404"/><circle cx="131.5" cy="502.0" r="1.1" fill="#ff1a0a"/><circle cx="175.7" cy="465.5" r="1.4" fill="#ff2010"/><circle cx="175.5" cy="460.3" r="0.7" fill="#3a0000"/><circle cx="167.4" cy="509.7" r="0.9" fill="#ff2010"/><circle cx="151.5" cy="472.8" r="0.6" fill="#ff2a14"/><circle cx="121.1" cy="487.5" r="0.7" fill="#600000"/><circle cx="158.3" cy="468.4" r="0.7" fill="#3a0000"/><circle cx="125.7" cy="487.0" r="1.1" fill="#ff2a14"/><circle cx="148.5" cy="473.1" r="0.6" fill="#500000"/><circle cx="122.5" cy="478.5" r="0.6" fill="#ff1a0a"/><circle cx="169.4" cy="487.5" r="0.8" fill="#ff1a0a"/><circle cx="148.5" cy="501.6" r="1.0" fill="#ff2a14"/><circle cx="167.9" cy="502.5" r="1.1" fill="#ff2a14"/><circle cx="124.7" cy="483.4" r="0.6" fill="#ff2010"/><circle cx="172.9" cy="518.0" r="0.6" fill="#600000"/><circle cx="161.8" cy="453.5" r="1.3" fill="#500000"/><circle cx="160.3" cy="475.2" r="0.6" fill="#500000"/><circle cx="162.6" cy="501.8" r="0.5" fill="#3a0000"/><circle cx="176.2" cy="498.6" r="1.1" fill="#500000"/><circle cx="138.2" cy="509.1" r="0.7" fill="#e01008"/><circle cx="129.1" cy="505.3" r="1.1" fill="#e01008"/><circle cx="141.2" cy="514.3" r="1.4" fill="#ff1a0a"/><circle cx="125.5" cy="469.4" r="0.9" fill="#e01008"/><circle cx="179.2" cy="493.9" r="1.2" fill="#ff2010"/><circle cx="143.2" cy="465.3" r="1.2" fill="#600000"/></g></g>
<path d="M121.1,460.1 L125.1,458.1 L129.8,461.4 L135.2,462.8 L135.9,456.7 L138.6,458.1 L139.9,462.8 L143.9,464.8 L148.6,463.5 L151.3,459.4 L153.4,454.0 L156.0,454.7 L155.4,459.4 L158.1,458.1 L162.1,454.0 L165.5,452.7 L166.8,455.4 L162.8,460.1 L159.4,464.8 L156.7,469.5 L158.1,473.6 L161.4,474.9 L166.1,472.2 L170.2,468.8 L174.9,468.8 L176.2,471.5 L174.2,474.9 L178.3,477.6 L179.6,480.3 L176.9,483.0 L171.5,483.6 L166.1,482.3 L160.8,481.6 L156.7,483.6 L156.0,489.0 L156.0,494.4 L158.1,498.5 L162.1,500.5 L166.8,501.8 L171.5,503.8 L176.2,505.9 L175.6,507.9 L170.2,507.9 L166.8,509.2 L166.1,513.3 L164.1,514.6 L160.8,513.3 L158.1,509.9 L154.7,506.5 L152.0,507.9 L150.0,511.9 L148.6,515.9 L148.0,519.3 L145.3,520.7 L143.3,518.6 L142.6,514.6 L140.6,512.6 L136.5,511.2 L132.5,509.9 L127.8,509.2 L123.7,507.9 L122.4,505.2 L125.1,502.5 L129.1,499.8 L133.8,497.1 L136.5,493.1 L137.2,487.7 L136.5,482.3 L135.2,478.3 L131.8,474.9 L128.5,472.2 L125.8,468.8 L122.4,465.5 L120.4,462.8 Z" fill="none" stroke="#ff1a0a" stroke-width="1.0" stroke-linejoin="round" filter="url(#bl)"/>
<circle cx="138.5" cy="478" r="0.9" fill="#ffa020" filter="url(#bl)"/>
</g>
<g clip-path="url(#c3)">
<path d="M252,467.6 C258,467.2 263,470.5 264.5,475 C266.5,480 266,487 263.5,491 C260.5,495.5 256,496 251.5,495.8 C246,495.6 241,493 239.2,488 C237.6,483 238.6,476 241.5,472 C244,468.8 248,467.8 252,467.6 Z" fill="#f01a10" filter="url(#bl)"/>
<g filter="url(#bl)"><circle cx="259.0" cy="477.3" r="1.3" fill="#d01010"/><circle cx="249.1" cy="486.7" r="0.8" fill="#ff5a40"/><circle cx="255.9" cy="472.3" r="1.4" fill="#d01010"/><circle cx="250.0" cy="486.1" r="1.2" fill="#ff3a28"/><circle cx="248.3" cy="472.7" r="0.6" fill="#b00808"/><circle cx="257.8" cy="474.7" r="0.6" fill="#ff3a28"/><circle cx="243.5" cy="474.5" r="1.4" fill="#ff3a28"/><circle cx="253.0" cy="488.3" r="1.3" fill="#ff3a28"/><circle cx="249.2" cy="490.6" r="0.9" fill="#ff3a28"/><circle cx="256.3" cy="485.3" r="1.3" fill="#ff5a40"/><circle cx="252.5" cy="471.0" r="1.1" fill="#c01010"/><circle cx="255.9" cy="472.8" r="0.6" fill="#ff7050"/><circle cx="254.2" cy="485.7" r="0.8" fill="#d01010"/><circle cx="248.1" cy="475.4" r="1.3" fill="#c01010"/><circle cx="252.7" cy="491.8" r="1.1" fill="#b00808"/><circle cx="246.1" cy="490.8" r="1.3" fill="#c01010"/><circle cx="259.1" cy="472.4" r="1.3" fill="#d01010"/><circle cx="250.7" cy="479.4" r="1.3" fill="#d01010"/><circle cx="263.2" cy="480.1" r="1.0" fill="#ff5a40"/><circle cx="254.3" cy="470.6" r="0.8" fill="#ff3a28"/><circle cx="250.2" cy="483.9" r="0.7" fill="#b00808"/><circle cx="253.6" cy="480.5" r="0.9" fill="#d01010"/><circle cx="261.1" cy="485.9" r="0.8" fill="#ff5a40"/><circle cx="248.0" cy="476.4" r="1.0" fill="#ff5a40"/><circle cx="248.7" cy="490.5" r="1.3" fill="#ff5a40"/><circle cx="249.3" cy="488.0" r="1.3" fill="#ff7050"/><circle cx="258.2" cy="475.1" r="0.7" fill="#d01010"/><circle cx="263.0" cy="481.4" r="0.7" fill="#ff5a40"/><circle cx="242.8" cy="487.3" r="1.1" fill="#c01010"/><circle cx="254.3" cy="490.2" r="1.3" fill="#ff7050"/><circle cx="250.7" cy="477.6" r="1.3" fill="#b00808"/><circle cx="243.7" cy="483.8" r="0.6" fill="#c01010"/><circle cx="248.9" cy="483.2" r="1.0" fill="#d01010"/><circle cx="253.8" cy="474.6" r="0.8" fill="#ff7050"/><circle cx="249.9" cy="479.8" r="0.9" fill="#ff7050"/><circle cx="245.6" cy="484.6" r="1.2" fill="#ff5a40"/><circle cx="254.0" cy="487.9" r="0.9" fill="#ff7050"/><circle cx="260.0" cy="480.1" r="1.2" fill="#b00808"/><circle cx="250.0" cy="477.6" r="1.4" fill="#d01010"/><circle cx="255.9" cy="478.7" r="0.6" fill="#ff7050"/><circle cx="242.6" cy="478.3" r="1.3" fill="#ff3a28"/><circle cx="254.7" cy="482.5" r="1.0" fill="#d01010"/><circle cx="257.9" cy="473.4" r="1.2" fill="#c01010"/><circle cx="241.0" cy="480.8" r="1.0" fill="#c01010"/><circle cx="256.4" cy="488.2" r="0.6" fill="#c01010"/><circle cx="247.4" cy="477.9" r="0.8" fill="#ff5a40"/><circle cx="254.0" cy="491.0" r="0.6" fill="#b00808"/><circle cx="255.7" cy="470.7" r="0.7" fill="#c01010"/><circle cx="246.7" cy="480.2" r="1.3" fill="#c01010"/><circle cx="243.4" cy="474.7" r="0.8" fill="#d01010"/><circle cx="251.4" cy="477.7" r="1.0" fill="#d01010"/><circle cx="250.6" cy="475.5" r="1.3" fill="#d01010"/><circle cx="262.7" cy="485.4" r="1.0" fill="#b00808"/><circle cx="259.5" cy="473.2" r="1.0" fill="#ff5a40"/><circle cx="257.0" cy="488.0" r="1.1" fill="#d01010"/><circle cx="246.9" cy="490.7" r="0.8" fill="#c01010"/><circle cx="253.6" cy="492.7" r="0.9" fill="#ff5a40"/><circle cx="250.6" cy="486.2" r="0.8" fill="#b00808"/><circle cx="257.6" cy="488.8" r="0.7" fill="#ff3a28"/><circle cx="255.3" cy="489.2" r="1.0" fill="#d01010"/></g>
<circle cx="253" cy="479.5" r="1" fill="#ffb080" filter="url(#bl)"/><circle cx="249" cy="471.5" r="0.9" fill="#ffa070" filter="url(#bl)"/><circle cx="253" cy="492" r="0.9" fill="#ff9070" filter="url(#bl)"/>
</g>
<text x="15.9" y="545.7" font-size="10.9" font-weight="bold" text-anchor="start" fill="#000" >Fibronectin</text>
<text x="118.1" y="545.2" font-size="10.8" font-weight="bold" text-anchor="start" fill="#000" >E/1-5-RGD-FL</text>
<text x="224.4" y="545.6" font-size="10.8" font-weight="bold" text-anchor="start" fill="#000" >E/1-5-RGD-FL</text>
<text x="213.9" y="559.6" font-size="10.8" font-weight="bold" text-anchor="start" fill="#000" >+ RGD Inhibitor</text>
<text x="314.6" y="9.9" font-size="11" font-weight="bold" text-anchor="start" fill="#000" >C</text>
<path d="M344.5,20.3 H513.4 V82.6" fill="none" stroke="#8a8a8a" stroke-width="0.9"/>
<path d="M344.5,20.3 V82.6 H513.4" fill="none" stroke="#555" stroke-width="0.9"/>
<text x="339.6" y="23.7" font-size="7.4" font-weight="bold" text-anchor="end" fill="#000" >300</text>
<text x="339.6" y="34.4" font-size="7.4" font-weight="bold" text-anchor="end" fill="#000" >250</text>
<text x="339.6" y="44.6" font-size="7.4" font-weight="bold" text-anchor="end" fill="#000" >200</text>
<text x="339.6" y="55.0" font-size="7.4" font-weight="bold" text-anchor="end" fill="#000" >150</text>
<text x="339.6" y="65.2" font-size="7.4" font-weight="bold" text-anchor="end" fill="#000" >100</text>
<text x="339.6" y="75.7" font-size="7.4" font-weight="bold" text-anchor="end" fill="#000" >50</text>
<text x="339.6" y="85.60000000000001" font-size="7.4" font-weight="bold" text-anchor="end" fill="#000" >0</text>
<text x="0" y="0" font-size="7.2" font-weight="bold" text-anchor="middle" fill="#000" transform="translate(320.9,54.4) rotate(-90)" textLength="73.6" lengthAdjust="spacingAndGlyphs">Cells per Field (200x)</text>
<line x1="348.0" y1="29.2" x2="348.0" y2="32.8" stroke="#333" stroke-width="0.7"/>
<line x1="347.0" y1="29.2" x2="349.0" y2="29.2" stroke="#333" stroke-width="0.7"/>
<rect x="345.65" y="32.80" width="4.70" height="49.80" fill="#000" stroke="#000" stroke-width="0.7"/>
<line x1="355.4" y1="62.5" x2="355.4" y2="63.8" stroke="#333" stroke-width="0.7"/>
<line x1="354.4" y1="62.5" x2="356.4" y2="62.5" stroke="#333" stroke-width="0.7"/>
<rect x="353.05" y="63.80" width="4.70" height="18.80" fill="#000" stroke="#000" stroke-width="0.7"/>
<line x1="362.7" y1="33.8" x2="362.7" y2="35.7" stroke="#333" stroke-width="0.7"/>
<line x1="361.7" y1="33.8" x2="363.7" y2="33.8" stroke="#333" stroke-width="0.7"/>
<rect x="360.35" y="35.70" width="4.70" height="46.90" fill="#000" stroke="#000" stroke-width="0.7"/>
<line x1="370.09999999999997" y1="59.5" x2="370.09999999999997" y2="61.5" stroke="#333" stroke-width="0.7"/>
<line x1="369.09999999999997" y1="59.5" x2="371.09999999999997" y2="59.5" stroke="#333" stroke-width="0.7"/>
<rect x="367.75" y="61.50" width="4.70" height="21.10" fill="#000" stroke="#000" stroke-width="0.7"/>
<line x1="377.7" y1="33.0" x2="377.7" y2="35.0" stroke="#333" stroke-width="0.7"/>
<line x1="376.7" y1="33.0" x2="378.7" y2="33.0" stroke="#333" stroke-width="0.7"/>
<rect x="375.35" y="35.00" width="4.70" height="47.60" fill="#000" stroke="#000" stroke-width="0.7"/>
<line x1="384.9" y1="37.5" x2="384.9" y2="40.8" stroke="#333" stroke-width="0.7"/>
<line x1="383.9" y1="37.5" x2="385.9" y2="37.5" stroke="#333" stroke-width="0.7"/>
<rect x="382.55" y="40.80" width="4.70" height="41.80" fill="#000" stroke="#000" stroke-width="0.7"/>
<line x1="392.09999999999997" y1="40.3" x2="392.09999999999997" y2="42.0" stroke="#333" stroke-width="0.7"/>
<line x1="391.09999999999997" y1="40.3" x2="393.09999999999997" y2="40.3" stroke="#333" stroke-width="0.7"/>
<rect x="389.75" y="42.00" width="4.70" height="40.60" fill="#000" stroke="#000" stroke-width="0.7"/>
<line x1="406.90000000000003" y1="59.3" x2="406.90000000000003" y2="60.2" stroke="#333" stroke-width="0.7"/>
<line x1="405.90000000000003" y1="59.3" x2="407.90000000000003" y2="59.3" stroke="#333" stroke-width="0.7"/>
<rect x="404.65" y="60.20" width="4.50" height="22.40" fill="#fff" stroke="#333" stroke-width="0.7"/>
<line x1="413.90000000000003" y1="77.5" x2="413.90000000000003" y2="78.8" stroke="#333" stroke-width="0.7"/>
<line x1="412.90000000000003" y1="77.5" x2="414.90000000000003" y2="77.5" stroke="#333" stroke-width="0.7"/>
<rect x="411.65" y="78.80" width="4.50" height="3.80" fill="#fff" stroke="#333" stroke-width="0.7"/>
<line x1="421.1" y1="64.4" x2="421.1" y2="66.2" stroke="#333" stroke-width="0.7"/>
<line x1="420.1" y1="64.4" x2="422.1" y2="64.4" stroke="#333" stroke-width="0.7"/>
<rect x="418.85" y="66.20" width="4.50" height="16.40" fill="#fff" stroke="#333" stroke-width="0.7"/>
<line x1="428.90000000000003" y1="78.6" x2="428.90000000000003" y2="79.8" stroke="#333" stroke-width="0.7"/>
<line x1="427.90000000000003" y1="78.6" x2="429.90000000000003" y2="78.6" stroke="#333" stroke-width="0.7"/>
<rect x="426.65" y="79.80" width="4.50" height="2.80" fill="#fff" stroke="#333" stroke-width="0.7"/>
<line x1="435.8" y1="62.3" x2="435.8" y2="63.8" stroke="#333" stroke-width="0.7"/>
<line x1="434.8" y1="62.3" x2="436.8" y2="62.3" stroke="#333" stroke-width="0.7"/>
<rect x="433.55" y="63.80" width="4.50" height="18.80" fill="#fff" stroke="#333" stroke-width="0.7"/>
<line x1="443.1" y1="72.0" x2="443.1" y2="73.7" stroke="#333" stroke-width="0.7"/>
<line x1="442.1" y1="72.0" x2="444.1" y2="72.0" stroke="#333" stroke-width="0.7"/>
<rect x="440.85" y="73.70" width="4.50" height="8.90" fill="#fff" stroke="#333" stroke-width="0.7"/>
<line x1="450.8" y1="61.6" x2="450.8" y2="62.5" stroke="#333" stroke-width="0.7"/>
<line x1="449.8" y1="61.6" x2="451.8" y2="61.6" stroke="#333" stroke-width="0.7"/>
<rect x="448.55" y="62.50" width="4.50" height="20.10" fill="#fff" stroke="#333" stroke-width="0.7"/>
<line x1="465.1" y1="64.0" x2="465.1" y2="65.3" stroke="#333" stroke-width="0.7"/>
<line x1="464.1" y1="64.0" x2="466.1" y2="64.0" stroke="#333" stroke-width="0.7"/>
<rect x="462.65" y="65.30" width="4.90" height="17.30" fill="#9bb4c0" stroke="#4a5a62" stroke-width="0.7"/>
<line x1="472.90000000000003" y1="80.0" x2="472.90000000000003" y2="80.6" stroke="#333" stroke-width="0.7"/>
<line x1="471.90000000000003" y1="80.0" x2="473.90000000000003" y2="80.0" stroke="#333" stroke-width="0.7"/>
<rect x="470.45" y="80.60" width="4.90" height="2.00" fill="#9bb4c0" stroke="#4a5a62" stroke-width="0.7"/>
<line x1="480.1" y1="71.0" x2="480.1" y2="73.1" stroke="#333" stroke-width="0.7"/>
<line x1="479.1" y1="71.0" x2="481.1" y2="71.0" stroke="#333" stroke-width="0.7"/>
<rect x="477.65" y="73.10" width="4.90" height="9.50" fill="#9bb4c0" stroke="#4a5a62" stroke-width="0.7"/>
<line x1="487.6" y1="80.3" x2="487.6" y2="80.9" stroke="#333" stroke-width="0.7"/>
<line x1="486.6" y1="80.3" x2="488.6" y2="80.3" stroke="#333" stroke-width="0.7"/>
<rect x="485.15" y="80.90" width="4.90" height="1.70" fill="#9bb4c0" stroke="#4a5a62" stroke-width="0.7"/>
<line x1="494.8" y1="66.0" x2="494.8" y2="67.1" stroke="#333" stroke-width="0.7"/>
<line x1="493.8" y1="66.0" x2="495.8" y2="66.0" stroke="#333" stroke-width="0.7"/>
<rect x="492.35" y="67.10" width="4.90" height="15.50" fill="#9bb4c0" stroke="#4a5a62" stroke-width="0.7"/>
<line x1="502.40000000000003" y1="72.3" x2="502.40000000000003" y2="74.2" stroke="#333" stroke-width="0.7"/>
<line x1="501.40000000000003" y1="72.3" x2="503.40000000000003" y2="72.3" stroke="#333" stroke-width="0.7"/>
<rect x="499.95" y="74.20" width="4.90" height="8.40" fill="#9bb4c0" stroke="#4a5a62" stroke-width="0.7"/>
<line x1="509.8" y1="65.0" x2="509.8" y2="67.1" stroke="#333" stroke-width="0.7"/>
<line x1="508.8" y1="65.0" x2="510.8" y2="65.0" stroke="#333" stroke-width="0.7"/>
<rect x="507.35" y="67.10" width="4.90" height="15.50" fill="#9bb4c0" stroke="#4a5a62" stroke-width="0.7"/>
<text x="0" y="0" font-size="5.9" font-weight="bold" text-anchor="end" fill="#000" transform="translate(348.90000000000003,88.0) rotate(-90)" stroke="#000" stroke-width="0.2" textLength="25.3" lengthAdjust="spacingAndGlyphs">untreated</text>
<text x="0" y="0" font-size="5.9" font-weight="bold" text-anchor="end" fill="#000" transform="translate(356.90000000000003,88.0) rotate(-90)" stroke="#000" stroke-width="0.2" textLength="28.3" lengthAdjust="spacingAndGlyphs"><tspan font-size="6.6" font-weight="normal">α</tspan>5 Ab (B)</text>
<text x="0" y="0" font-size="5.9" font-weight="bold" text-anchor="end" fill="#000" transform="translate(365.0,88.0) rotate(-90)" stroke="#000" stroke-width="0.2" textLength="32.1" lengthAdjust="spacingAndGlyphs"><tspan font-size="6.6" font-weight="normal">α</tspan>5 Ab (mB)</text>
<text x="0" y="0" font-size="5.9" font-weight="bold" text-anchor="end" fill="#000" transform="translate(372.40000000000003,88.0) rotate(-90)" stroke="#000" stroke-width="0.2" textLength="17.9" lengthAdjust="spacingAndGlyphs"><tspan font-size="6.6" font-weight="normal">β</tspan>1 Ab</text>
<text x="0" y="0" font-size="5.9" font-weight="bold" text-anchor="end" fill="#000" transform="translate(379.6,88.0) rotate(-90)" stroke="#000" stroke-width="0.2" textLength="17.7" lengthAdjust="spacingAndGlyphs"><tspan font-size="6.6" font-weight="normal">α</tspan>2 Ab</text>
<text x="0" y="0" font-size="5.9" font-weight="bold" text-anchor="end" fill="#000" transform="translate(386.6,88.0) rotate(-90)" stroke="#000" stroke-width="0.2" textLength="25.3" lengthAdjust="spacingAndGlyphs"><tspan font-size="6.6" font-weight="normal">α</tspan>v<tspan font-size="6.6" font-weight="normal">β</tspan>3 Ab</text>
<text x="0" y="0" font-size="5.9" font-weight="bold" text-anchor="end" fill="#000" transform="translate(394.0,88.0) rotate(-90)" stroke="#000" stroke-width="0.2" textLength="25.3" lengthAdjust="spacingAndGlyphs"><tspan font-size="6.6" font-weight="normal">α</tspan>v<tspan font-size="6.6" font-weight="normal">β</tspan>5 Ab</text>
<text x="0" y="0" font-size="5.9" font-weight="bold" text-anchor="end" fill="#000" transform="translate(408.20000000000005,88.0) rotate(-90)" stroke="#000" stroke-width="0.2" textLength="25.3" lengthAdjust="spacingAndGlyphs">untreated</text>
<text x="0" y="0" font-size="5.9" font-weight="bold" text-anchor="end" fill="#000" transform="translate(416.3,88.0) rotate(-90)" stroke="#000" stroke-width="0.2" textLength="28.3" lengthAdjust="spacingAndGlyphs"><tspan font-size="6.6" font-weight="normal">α</tspan>5 Ab (B)</text>
<text x="0" y="0" font-size="5.9" font-weight="bold" text-anchor="end" fill="#000" transform="translate(424.3,88.0) rotate(-90)" stroke="#000" stroke-width="0.2" textLength="32.1" lengthAdjust="spacingAndGlyphs"><tspan font-size="6.6" font-weight="normal">α</tspan>5 Ab (mB)</text>
<text x="0" y="0" font-size="5.9" font-weight="bold" text-anchor="end" fill="#000" transform="translate(431.1,88.0) rotate(-90)" stroke="#000" stroke-width="0.2" textLength="17.9" lengthAdjust="spacingAndGlyphs"><tspan font-size="6.6" font-weight="normal">β</tspan>1 Ab</text>
<text x="0" y="0" font-size="5.9" font-weight="bold" text-anchor="end" fill="#000" transform="translate(438.5,88.0) rotate(-90)" stroke="#000" stroke-width="0.2" textLength="17.7" lengthAdjust="spacingAndGlyphs"><tspan font-size="6.6" font-weight="normal">α</tspan>2 Ab</text>
<text x="0" y="0" font-size="5.9" font-weight="bold" text-anchor="end" fill="#000" transform="translate(445.5,88.0) rotate(-90)" stroke="#000" stroke-width="0.2" textLength="25.3" lengthAdjust="spacingAndGlyphs"><tspan font-size="6.6" font-weight="normal">α</tspan>v<tspan font-size="6.6" font-weight="normal">β</tspan>3 Ab</text>
<text x="0" y="0" font-size="5.9" font-weight="bold" text-anchor="end" fill="#000" transform="translate(453.3,88.0) rotate(-90)" stroke="#000" stroke-width="0.2" textLength="25.3" lengthAdjust="spacingAndGlyphs"><tspan font-size="6.6" font-weight="normal">α</tspan>v<tspan font-size="6.6" font-weight="normal">β</tspan>5 Ab</text>
<text x="0" y="0" font-size="5.9" font-weight="bold" text-anchor="end" fill="#000" transform="translate(467.6,88.0) rotate(-90)" stroke="#000" stroke-width="0.2" textLength="25.3" lengthAdjust="spacingAndGlyphs">untreated</text>
<text x="0" y="0" font-size="5.9" font-weight="bold" text-anchor="end" fill="#000" transform="translate(475.0,88.0) rotate(-90)" stroke="#000" stroke-width="0.2" textLength="28.3" lengthAdjust="spacingAndGlyphs"><tspan font-size="6.6" font-weight="normal">α</tspan>5 Ab (B)</text>
<text x="0" y="0" font-size="5.9" font-weight="bold" text-anchor="end" fill="#000" transform="translate(482.8,88.0) rotate(-90)" stroke="#000" stroke-width="0.2" textLength="32.1" lengthAdjust="spacingAndGlyphs"><tspan font-size="6.6" font-weight="normal">α</tspan>5 Ab (mB)</text>
<text x="0" y="0" font-size="5.9" font-weight="bold" text-anchor="end" fill="#000" transform="translate(490.1,88.0) rotate(-90)" stroke="#000" stroke-width="0.2" textLength="17.9" lengthAdjust="spacingAndGlyphs"><tspan font-size="6.6" font-weight="normal">β</tspan>1 Ab</text>
<text x="0" y="0" font-size="5.9" font-weight="bold" text-anchor="end" fill="#000" transform="translate(497.20000000000005,88.0) rotate(-90)" stroke="#000" stroke-width="0.2" textLength="17.7" lengthAdjust="spacingAndGlyphs"><tspan font-size="6.6" font-weight="normal">α</tspan>2 Ab</text>
<text x="0" y="0" font-size="5.9" font-weight="bold" text-anchor="end" fill="#000" transform="translate(504.6,88.0) rotate(-90)" stroke="#000" stroke-width="0.2" textLength="25.3" lengthAdjust="spacingAndGlyphs"><tspan font-size="6.6" font-weight="normal">α</tspan>v<tspan font-size="6.6" font-weight="normal">β</tspan>3 Ab</text>
<text x="0" y="0" font-size="5.9" font-weight="bold" text-anchor="end" fill="#000" transform="translate(512.0,88.0) rotate(-90)" stroke="#000" stroke-width="0.2" textLength="25.3" lengthAdjust="spacingAndGlyphs"><tspan font-size="6.6" font-weight="normal">α</tspan>v<tspan font-size="6.6" font-weight="normal">β</tspan>5 Ab</text>
<path d="M340,117.7 V125 H398 V117.7" fill="none" stroke="#777" stroke-width="0.9"/>
<path d="M401.1,117.7 V125 H458.6 V117.7" fill="none" stroke="#777" stroke-width="0.9"/>
<path d="M461.4,117.7 V125 H518.6 V117.7" fill="none" stroke="#777" stroke-width="0.9"/>
<text x="350.5" y="132.4" font-size="7.4" font-weight="bold" text-anchor="start" fill="#000" >Fibronectin</text>
<text x="403.4" y="132.6" font-size="7.3" font-weight="bold" text-anchor="start" fill="#000" >E/1,2,5-RGD-FL</text>
<text x="465.9" y="132.6" font-size="7.3" font-weight="bold" text-anchor="start" fill="#000" >E/1-5-RGD-FL</text>
<text x="314.6" y="161.8" font-size="11.8" font-weight="bold" text-anchor="start" fill="#000" textLength="8.2" lengthAdjust="spacingAndGlyphs">D</text>
<rect x="342" y="171.5" width="170.5" height="98.8" fill="none" stroke="#777" stroke-width="0.9"/>
<text x="333.3" y="184.3" font-size="9.7" font-weight="bold" text-anchor="middle" fill="#000" >40</text>
<line x1="342" y1="181.4" x2="344" y2="181.4" stroke="#666" stroke-width="0.8"/>
<text x="333.3" y="206.8" font-size="9.7" font-weight="bold" text-anchor="middle" fill="#000" >30</text>
<line x1="342" y1="203.9" x2="344" y2="203.9" stroke="#666" stroke-width="0.8"/>
<text x="333.3" y="228.1" font-size="9.7" font-weight="bold" text-anchor="middle" fill="#000" >20</text>
<line x1="342" y1="225.2" x2="344" y2="225.2" stroke="#666" stroke-width="0.8"/>
<text x="333.3" y="250.6" font-size="9.7" font-weight="bold" text-anchor="middle" fill="#000" >10</text>
<line x1="342" y1="247.7" x2="344" y2="247.7" stroke="#666" stroke-width="0.8"/>
<text x="333.3" y="272.4" font-size="9.7" font-weight="bold" text-anchor="middle" fill="#000" >0</text>
<line x1="342" y1="269.5" x2="344" y2="269.5" stroke="#666" stroke-width="0.8"/>
<text x="342.4" y="283.6" font-size="10" font-weight="bold" text-anchor="middle" fill="#000" >0</text>
<text x="381.7" y="283.6" font-size="10" font-weight="bold" text-anchor="middle" fill="#000" >50</text>
<text x="424.0" y="283.6" font-size="10" font-weight="bold" text-anchor="middle" fill="#000" >100</text>
<text x="465.6" y="283.6" font-size="10" font-weight="bold" text-anchor="middle" fill="#000" >150</text>
<text x="510.0" y="283.6" font-size="10" font-weight="bold" text-anchor="middle" fill="#000" >200</text>
<text x="404.9" y="296.9" font-size="8.0" font-weight="bold" text-anchor="start" fill="#000" >Protein (ng)</text>
<text x="0" y="0" font-size="7.9" font-weight="bold" text-anchor="middle" fill="#000" transform="translate(320.9,218.2) rotate(-90)" textLength="100.2" lengthAdjust="spacingAndGlyphs">Total Cells per Field (200x)</text>
<path d="M342.80,270.30 C344.38,266.40 349.27,256.15 352.30,246.90 C355.33,237.65 356.05,223.20 361.00,214.80 C365.95,206.40 371.33,201.20 382.00,196.50 C392.67,191.80 403.57,188.30 425.00,186.60 C446.43,184.90 496.33,186.35 510.60,186.30" fill="none" stroke="#222" stroke-width="0.9"/>
<path d="M352.30,270.30 C353.75,266.50 356.05,253.07 361.00,247.50 C365.95,241.93 371.33,240.03 382.00,236.90 C392.67,233.77 403.57,230.55 425.00,228.70 C446.43,226.85 496.33,226.28 510.60,225.80" fill="none" stroke="#222" stroke-width="0.9"/>
<path d="M352.30,270.30 C353.75,269.13 356.05,266.72 361.00,263.30 C365.95,259.88 371.33,254.18 382.00,249.80 C392.67,245.42 403.57,240.27 425.00,237.00 C446.43,233.73 496.33,231.33 510.60,230.20" fill="none" stroke="#222" stroke-width="0.9"/>
<path d="M361.00,270.30 C364.50,269.62 371.33,267.97 382.00,266.20 C392.67,264.43 403.57,261.57 425.00,259.70 C446.43,257.83 496.33,255.78 510.60,255.00" fill="none" stroke="#222" stroke-width="0.9"/>
<path d="M361.00,270.00 C364.50,269.80 371.33,269.18 382.00,268.80 C392.67,268.42 403.57,267.88 425.00,267.70 C446.43,267.52 496.33,267.70 510.60,267.70" fill="none" stroke="#222" stroke-width="0.9"/>
<line x1="352.3" y1="241" x2="352.3" y2="254.6" stroke="#444" stroke-width="0.7"/>
<line x1="351.3" y1="241" x2="353.3" y2="241" stroke="#444" stroke-width="0.7"/>
<line x1="351.3" y1="254.6" x2="353.3" y2="254.6" stroke="#444" stroke-width="0.7"/>
<line x1="361.0" y1="208.5" x2="361.0" y2="222" stroke="#444" stroke-width="0.7"/>
<line x1="360.0" y1="208.5" x2="362.0" y2="208.5" stroke="#444" stroke-width="0.7"/>
<line x1="360.0" y1="222" x2="362.0" y2="222" stroke="#444" stroke-width="0.7"/>
<line x1="382.0" y1="189.8" x2="382.0" y2="202.7" stroke="#444" stroke-width="0.7"/>
<line x1="381.0" y1="189.8" x2="383.0" y2="189.8" stroke="#444" stroke-width="0.7"/>
<line x1="381.0" y1="202.7" x2="383.0" y2="202.7" stroke="#444" stroke-width="0.7"/>
<line x1="425.0" y1="179.6" x2="425.0" y2="193" stroke="#444" stroke-width="0.7"/>
<line x1="424.0" y1="179.6" x2="426.0" y2="179.6" stroke="#444" stroke-width="0.7"/>
<line x1="424.0" y1="193" x2="426.0" y2="193" stroke="#444" stroke-width="0.7"/>
<line x1="510.6" y1="179.6" x2="510.6" y2="193" stroke="#444" stroke-width="0.7"/>
<line x1="509.6" y1="179.6" x2="511.6" y2="179.6" stroke="#444" stroke-width="0.7"/>
<line x1="509.6" y1="193" x2="511.6" y2="193" stroke="#444" stroke-width="0.7"/>
<line x1="361.0" y1="243" x2="361.0" y2="252" stroke="#444" stroke-width="0.7"/>
<line x1="360.0" y1="243" x2="362.0" y2="243" stroke="#444" stroke-width="0.7"/>
<line x1="360.0" y1="252" x2="362.0" y2="252" stroke="#444" stroke-width="0.7"/>
<line x1="382.0" y1="232" x2="382.0" y2="242" stroke="#444" stroke-width="0.7"/>
<line x1="381.0" y1="232" x2="383.0" y2="232" stroke="#444" stroke-width="0.7"/>
<line x1="381.0" y1="242" x2="383.0" y2="242" stroke="#444" stroke-width="0.7"/>
<line x1="425.0" y1="225" x2="425.0" y2="233" stroke="#444" stroke-width="0.7"/>
<line x1="424.0" y1="225" x2="426.0" y2="225" stroke="#444" stroke-width="0.7"/>
<line x1="424.0" y1="233" x2="426.0" y2="233" stroke="#444" stroke-width="0.7"/>
<line x1="510.6" y1="222" x2="510.6" y2="229" stroke="#444" stroke-width="0.7"/>
<line x1="509.6" y1="222" x2="511.6" y2="222" stroke="#444" stroke-width="0.7"/>
<line x1="509.6" y1="229" x2="511.6" y2="229" stroke="#444" stroke-width="0.7"/>
<rect x="341.40000000000003" y="268.90000000000003" width="2.8" height="2.8" fill="#000"/>
<rect x="350.90000000000003" y="245.5" width="2.8" height="2.8" fill="#000"/>
<rect x="359.6" y="213.4" width="2.8" height="2.8" fill="#000"/>
<rect x="380.6" y="195.1" width="2.8" height="2.8" fill="#000"/>
<rect x="423.6" y="185.2" width="2.8" height="2.8" fill="#000"/>
<rect x="509.20000000000005" y="184.9" width="2.8" height="2.8" fill="#000"/>
<circle cx="352.3" cy="270.3" r="1.1" fill="#fff" stroke="#000" stroke-width="1"/>
<circle cx="361.0" cy="247.5" r="1.1" fill="#fff" stroke="#000" stroke-width="1"/>
<circle cx="382.0" cy="236.9" r="1.1" fill="#fff" stroke="#000" stroke-width="1"/>
<circle cx="425.0" cy="228.7" r="1.1" fill="#fff" stroke="#000" stroke-width="1"/>
<circle cx="510.6" cy="225.8" r="1.1" fill="#fff" stroke="#000" stroke-width="1"/>
<circle cx="352.3" cy="270.3" r="1.55" fill="#000"/>
<circle cx="361.0" cy="263.3" r="1.55" fill="#000"/>
<circle cx="382.0" cy="249.8" r="1.55" fill="#000"/>
<circle cx="425.0" cy="237.0" r="1.55" fill="#000"/>
<circle cx="510.6" cy="230.2" r="1.55" fill="#000"/>
<circle cx="361.0" cy="270.3" r="1.35" fill="#000"/>
<circle cx="382.0" cy="266.2" r="1.35" fill="#000"/>
<circle cx="425.0" cy="259.7" r="1.35" fill="#000"/>
<circle cx="510.6" cy="255.0" r="1.35" fill="#000"/>
<rect x="359.7" y="268.7" width="2.6" height="2.6" fill="#000"/>
<rect x="380.7" y="267.5" width="2.6" height="2.6" fill="#000"/>
<rect x="423.7" y="266.4" width="2.6" height="2.6" fill="#000"/>
<rect x="509.3" y="266.4" width="2.6" height="2.6" fill="#000"/>
<rect x="342.6" y="320" width="169.7" height="101.5" fill="none" stroke="#777" stroke-width="0.9"/>
<text x="334.6" y="334.59999999999997" font-size="9.7" font-weight="bold" text-anchor="middle" fill="#000" >40</text>
<line x1="342.6" y1="331.7" x2="344.6" y2="331.7" stroke="#666" stroke-width="0.8"/>
<text x="334.6" y="357.5" font-size="9.7" font-weight="bold" text-anchor="middle" fill="#000" >30</text>
<line x1="342.6" y1="354.6" x2="344.6" y2="354.6" stroke="#666" stroke-width="0.8"/>
<text x="334.6" y="380.59999999999997" font-size="9.7" font-weight="bold" text-anchor="middle" fill="#000" >20</text>
<line x1="342.6" y1="377.7" x2="344.6" y2="377.7" stroke="#666" stroke-width="0.8"/>
<text x="334.6" y="403.0" font-size="9.7" font-weight="bold" text-anchor="middle" fill="#000" >10</text>
<line x1="342.6" y1="400.1" x2="344.6" y2="400.1" stroke="#666" stroke-width="0.8"/>
<text x="334.6" y="424.9" font-size="9.7" font-weight="bold" text-anchor="middle" fill="#000" >0</text>
<line x1="342.6" y1="422.0" x2="344.6" y2="422.0" stroke="#666" stroke-width="0.8"/>
<text x="342.3" y="435.6" font-size="10" font-weight="bold" text-anchor="middle" fill="#000" >0</text>
<text x="381.8" y="435.6" font-size="10" font-weight="bold" text-anchor="middle" fill="#000" >50</text>
<text x="424.1" y="435.6" font-size="10" font-weight="bold" text-anchor="middle" fill="#000" >100</text>
<text x="465.6" y="435.6" font-size="10" font-weight="bold" text-anchor="middle" fill="#000" >150</text>
<text x="510.0" y="435.6" font-size="10" font-weight="bold" text-anchor="middle" fill="#000" >200</text>
<text x="408.4" y="448.0" font-size="8.0" font-weight="bold" text-anchor="start" fill="#000" >Protein (ng)</text>
<text x="0" y="0" font-size="8.0" font-weight="bold" text-anchor="middle" fill="#000" transform="translate(321.4,372.75) rotate(-90)" textLength="96.8" lengthAdjust="spacingAndGlyphs">Flat Cells per Field (200x)</text>
<path d="M342.80,421.50 C344.38,417.67 349.27,407.98 352.30,398.50 C355.33,389.02 356.05,373.42 361.00,364.60 C365.95,355.78 371.33,350.47 382.00,345.60 C392.67,340.73 403.57,337.17 425.00,335.40 C446.43,333.63 496.33,335.07 510.60,335.00" fill="none" stroke="#222" stroke-width="0.9"/>
<path d="M352.30,421.50 C353.75,420.28 356.05,417.58 361.00,414.20 C365.95,410.82 371.33,405.68 382.00,401.20 C392.67,396.72 403.57,389.67 425.00,387.30 C446.43,384.93 496.33,387.05 510.60,387.00" fill="none" stroke="#222" stroke-width="0.9"/>
<path d="M352.30,421.30 C353.75,421.22 356.05,420.97 361.00,420.80 C365.95,420.63 371.33,420.47 382.00,420.30 C392.67,420.13 403.57,419.98 425.00,419.80 C446.43,419.62 496.33,419.30 510.60,419.20" fill="none" stroke="#444" stroke-width="0.8"/>
<path d="M352.30,421.30 C353.75,421.00 356.05,419.92 361.00,419.50 C365.95,419.08 371.33,419.00 382.00,418.80 C392.67,418.60 403.57,418.47 425.00,418.30 C446.43,418.13 496.33,417.88 510.60,417.80" fill="none" stroke="#444" stroke-width="0.8"/>
<path d="M352.30,421.30 C353.75,420.83 356.05,419.13 361.00,418.50 C365.95,417.87 371.33,417.75 382.00,417.50 C392.67,417.25 403.57,417.17 425.00,417.00 C446.43,416.83 496.33,416.58 510.60,416.50" fill="none" stroke="#444" stroke-width="0.8"/>
<polygon points="342.8,419.7 344.6,421.5 342.8,423.3 341.0,421.5" fill="#000"/>
<polygon points="352.3,396.7 354.1,398.5 352.3,400.3 350.5,398.5" fill="#000"/>
<polygon points="361.0,362.8 362.8,364.6 361.0,366.40000000000003 359.2,364.6" fill="#000"/>
<polygon points="382.0,343.8 383.8,345.6 382.0,347.40000000000003 380.2,345.6" fill="#000"/>
<polygon points="425.0,333.59999999999997 426.8,335.4 425.0,337.2 423.2,335.4" fill="#000"/>
<polygon points="510.6,333.2 512.4,335.0 510.6,336.8 508.8,335.0" fill="#000"/>
<circle cx="352.3" cy="421.5" r="1.7" fill="#000"/>
<circle cx="361.0" cy="414.2" r="1.7" fill="#000"/>
<circle cx="382.0" cy="401.2" r="1.7" fill="#000"/>
<circle cx="425.0" cy="387.3" r="1.7" fill="#000"/>
<circle cx="510.6" cy="387.0" r="1.7" fill="#000"/>
<rect x="351.1" y="420.1" width="2.4" height="2.4" fill="#000"/>
<rect x="359.8" y="419.6" width="2.4" height="2.4" fill="#000"/>
<rect x="380.8" y="419.1" width="2.4" height="2.4" fill="#000"/>
<rect x="423.8" y="418.6" width="2.4" height="2.4" fill="#000"/>
<rect x="509.40000000000003" y="418.0" width="2.4" height="2.4" fill="#000"/>
<line x1="352.3" y1="396.0" x2="352.3" y2="401.0" stroke="#444" stroke-width="0.7"/>
<line x1="351.3" y1="396.0" x2="353.3" y2="396.0" stroke="#444" stroke-width="0.7"/>
<line x1="351.3" y1="401.0" x2="353.3" y2="401.0" stroke="#444" stroke-width="0.7"/>
<line x1="361.0" y1="362.1" x2="361.0" y2="367.1" stroke="#444" stroke-width="0.7"/>
<line x1="360.0" y1="362.1" x2="362.0" y2="362.1" stroke="#444" stroke-width="0.7"/>
<line x1="360.0" y1="367.1" x2="362.0" y2="367.1" stroke="#444" stroke-width="0.7"/>
<line x1="382.0" y1="343.1" x2="382.0" y2="348.1" stroke="#444" stroke-width="0.7"/>
<line x1="381.0" y1="343.1" x2="383.0" y2="343.1" stroke="#444" stroke-width="0.7"/>
<line x1="381.0" y1="348.1" x2="383.0" y2="348.1" stroke="#444" stroke-width="0.7"/>
<line x1="425.0" y1="332.9" x2="425.0" y2="337.9" stroke="#444" stroke-width="0.7"/>
<line x1="424.0" y1="332.9" x2="426.0" y2="332.9" stroke="#444" stroke-width="0.7"/>
<line x1="424.0" y1="337.9" x2="426.0" y2="337.9" stroke="#444" stroke-width="0.7"/>
<line x1="510.6" y1="332.5" x2="510.6" y2="337.5" stroke="#444" stroke-width="0.7"/>
<line x1="509.6" y1="332.5" x2="511.6" y2="332.5" stroke="#444" stroke-width="0.7"/>
<line x1="509.6" y1="337.5" x2="511.6" y2="337.5" stroke="#444" stroke-width="0.7"/>
<rect x="437.1" y="339.3" width="67.8" height="42.1" fill="#fff" stroke="#777" stroke-width="0.8"/>
<line x1="440.9" y1="346.3" x2="451.5" y2="346.3" stroke="#333" stroke-width="0.7"/>
<polygon points="446.2,344.8 447.7,346.3 446.2,347.8 444.7,346.3" fill="#000"/>
<text x="454.6" y="348.90000000000003" font-size="7.2" font-weight="bold" text-anchor="start" fill="#000" textLength="41.9" lengthAdjust="spacingAndGlyphs">E/1-5-RGD-FL</text>
<line x1="440.9" y1="353.5" x2="451.5" y2="353.5" stroke="#333" stroke-width="0.7"/>
<rect x="444.7" y="352.0" width="3" height="3" fill="#000"/>
<text x="454.6" y="356.1" font-size="7.2" font-weight="bold" text-anchor="start" fill="#000" textLength="47.0" lengthAdjust="spacingAndGlyphs">E/3-5-RGD(374)</text>
<line x1="440.9" y1="360.9" x2="451.5" y2="360.9" stroke="#333" stroke-width="0.7"/>
<circle cx="446.2" cy="360.9" r="1.5" fill="#000"/>
<text x="454.6" y="363.5" font-size="7.2" font-weight="bold" text-anchor="start" fill="#000" textLength="46.6" lengthAdjust="spacingAndGlyphs">E/4,5-RGD(374)</text>
<line x1="440.9" y1="368.3" x2="451.5" y2="368.3" stroke="#333" stroke-width="0.7"/>
<line x1="444.9" y1="367.0" x2="447.5" y2="369.6" stroke="#333" stroke-width="0.6"/>
<line x1="444.9" y1="369.6" x2="447.5" y2="367.0" stroke="#333" stroke-width="0.6"/>
<line x1="444.9" y1="368.3" x2="447.5" y2="368.3" stroke="#333" stroke-width="0.6"/>
<text x="454.6" y="370.90000000000003" font-size="7.2" font-weight="bold" text-anchor="start" fill="#000" textLength="15.4" lengthAdjust="spacingAndGlyphs">E/1-5</text>
<line x1="440.9" y1="375.7" x2="451.5" y2="375.7" stroke="#333" stroke-width="0.7"/>
<polygon points="446.2,374.2 447.7,376.7 444.7,376.7" fill="#fff" stroke="#333" stroke-width="0.6"/>
<text x="454.6" y="378.3" font-size="7.2" font-weight="bold" text-anchor="start" fill="#000" textLength="20.4" lengthAdjust="spacingAndGlyphs">E/1,2,5</text>
</svg>
</body></html>
